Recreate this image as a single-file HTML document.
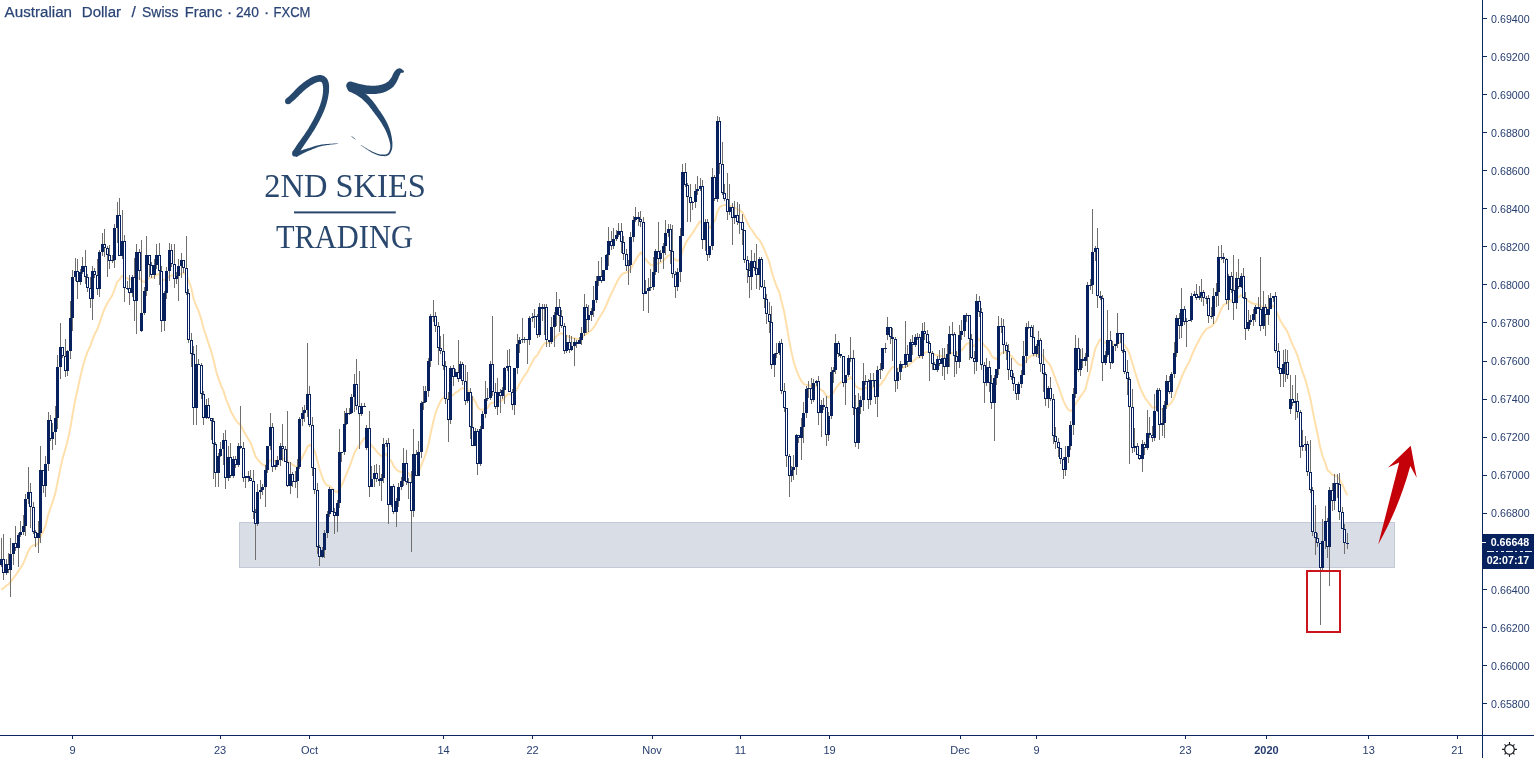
<!DOCTYPE html>
<html lang="en">
<head>
<meta charset="utf-8">
<title>Australian Dollar / Swiss Franc - 240 - FXCM</title>
<style>
html,body{margin:0;padding:0;background:#fff;overflow:hidden}
body{width:1534px;height:758px;position:relative;font-family:"Liberation Sans",sans-serif}
svg{position:absolute;left:0;top:0;display:block;will-change:transform}
.ax{font-family:"Liberation Sans",sans-serif;font-size:11px;fill:#263d6e}
.axb{font-family:"Liberation Sans",sans-serif;font-size:11px;font-weight:bold;fill:#263d6e}
.hdr{font-family:"Liberation Sans",sans-serif;font-size:15.5px;fill:#2b4475}
.logo{font-family:"Liberation Serif",serif;font-size:33px;fill:#2a486e}
.lbl{font-family:"Liberation Sans",sans-serif;font-size:11px;font-weight:bold;fill:#fff}
</style>
</head>
<body>
<svg width="1534" height="758" viewBox="0 0 1534 758">

<!-- header -->
<text class="hdr" y="16.7" stroke="#2b4475" stroke-width="0.25"><tspan x="4.6" textLength="67.4" lengthAdjust="spacingAndGlyphs">Australian</tspan> <tspan x="81.8" textLength="39.3" lengthAdjust="spacingAndGlyphs">Dollar</tspan> <tspan x="131.6">/</tspan> <tspan x="142.0" textLength="36.5" lengthAdjust="spacingAndGlyphs">Swiss</tspan> <tspan x="184.8" textLength="37.5" lengthAdjust="spacingAndGlyphs">Franc</tspan> <tspan x="226.9">·</tspan> <tspan x="235.9" textLength="23.0" lengthAdjust="spacingAndGlyphs">240</tspan> <tspan x="264.1">·</tspan> <tspan x="273.5" textLength="36.9" lengthAdjust="spacingAndGlyphs">FXCM</tspan></text>

<g shape-rendering="crispEdges">
<rect x="239.5" y="522.5" width="1155" height="45" fill="#d9dde6" stroke="#c3c9d6" stroke-width="1"/>
</g>
<path d="M1.1 589.7 L3.6 588.1 L6.0 585.8 L8.5 584.3 L11.0 581.4 L13.5 577.8 L15.9 574.9 L18.4 571.1 L20.9 567.4 L23.3 563.5 L25.8 557.3 L28.3 551.1 L30.7 546.9 L33.2 545.5 L35.7 544.8 L38.2 543.6 L40.6 536.6 L43.1 531.8 L45.6 525.4 L48.0 515.3 L50.5 508.0 L53.0 500.8 L55.4 492.9 L57.9 480.9 L60.4 468.2 L62.9 457.4 L65.3 449.2 L67.8 439.9 L70.3 428.3 L72.7 413.9 L75.2 400.3 L77.7 389.0 L80.1 377.9 L82.6 367.2 L85.1 358.7 L87.5 351.9 L90.0 346.8 L92.5 339.6 L95.0 333.5 L97.4 329.3 L99.9 321.9 L102.4 314.5 L104.8 308.2 L107.3 303.2 L109.8 299.2 L112.2 295.5 L114.7 289.0 L117.2 281.9 L119.7 279.5 L122.1 275.9 L124.6 277.0 L127.1 278.1 L129.5 279.5 L132.0 279.3 L134.5 281.4 L137.0 278.5 L139.4 277.8 L141.9 281.1 L144.4 282.1 L146.8 279.5 L149.3 278.1 L151.8 277.8 L154.2 276.6 L156.7 274.6 L159.2 274.3 L161.7 278.8 L164.1 280.1 L166.6 279.3 L169.1 276.5 L171.5 275.3 L174.0 275.7 L176.5 275.8 L178.9 274.9 L181.4 273.5 L183.9 273.0 L186.4 274.9 L188.8 281.1 L191.3 288.1 L193.8 299.5 L196.2 305.6 L198.7 311.3 L201.2 319.1 L203.6 328.5 L206.1 335.8 L208.6 343.6 L211.1 350.9 L213.5 359.8 L216.0 370.6 L218.5 378.7 L220.9 385.4 L223.4 390.6 L225.9 398.9 L228.3 404.4 L230.8 411.2 L233.3 415.7 L235.8 420.4 L238.2 422.9 L240.7 425.2 L243.2 430.2 L245.6 434.6 L248.1 438.7 L250.6 442.7 L253.0 449.3 L255.5 456.4 L258.0 459.8 L260.5 462.7 L262.9 465.0 L265.4 465.5 L267.9 463.6 L270.3 460.1 L272.8 460.8 L275.3 461.2 L277.7 461.1 L280.2 459.6 L282.7 458.6 L285.2 458.9 L287.6 461.5 L290.1 462.7 L292.6 464.6 L295.0 466.1 L297.5 466.2 L300.0 461.7 L302.4 457.0 L304.9 452.5 L307.4 446.9 L309.9 444.9 L312.3 447.1 L314.8 451.2 L317.3 460.4 L319.7 469.5 L322.2 477.3 L324.7 482.6 L327.1 485.6 L329.6 485.9 L332.1 488.4 L334.6 491.0 L337.0 492.1 L339.5 488.3 L342.0 484.9 L344.4 479.1 L346.9 472.8 L349.4 467.1 L351.8 460.4 L354.3 453.1 L356.8 448.7 L359.3 445.4 L361.7 441.7 L364.2 438.3 L366.7 437.3 L369.1 442.0 L371.6 445.6 L374.1 448.2 L376.5 451.1 L379.0 454.0 L381.5 456.2 L384.0 455.1 L386.4 453.9 L388.9 458.8 L391.4 461.3 L393.8 466.2 L396.3 469.5 L398.8 471.2 L401.2 472.1 L403.7 471.3 L406.2 472.4 L408.7 473.3 L411.1 476.9 L413.6 474.7 L416.1 474.8 L418.5 472.7 L421.0 466.1 L423.5 460.0 L425.9 453.4 L428.4 444.5 L430.9 432.3 L433.4 421.3 L435.8 412.2 L438.3 406.0 L440.8 400.8 L443.2 397.5 L445.7 397.7 L448.2 399.8 L450.6 396.8 L453.1 394.9 L455.6 392.7 L458.1 391.4 L460.5 388.9 L463.0 388.1 L465.5 389.4 L467.9 389.6 L470.4 393.2 L472.9 398.2 L475.3 401.3 L477.8 407.3 L480.3 409.4 L482.8 409.8 L485.2 408.9 L487.7 407.8 L490.2 403.7 L492.6 402.5 L495.1 403.0 L497.6 401.9 L500.0 401.3 L502.5 400.3 L505.0 397.2 L507.5 394.3 L509.9 394.1 L512.4 395.1 L514.9 392.5 L517.3 387.9 L519.8 383.4 L522.3 379.2 L524.7 375.3 L527.2 372.0 L529.7 366.9 L532.2 362.2 L534.6 357.8 L537.1 355.6 L539.6 351.0 L542.0 347.0 L544.5 343.2 L547.0 342.9 L549.4 342.9 L551.9 341.4 L554.4 338.8 L556.9 335.8 L559.3 334.0 L561.8 333.2 L564.3 334.9 L566.7 335.6 L569.2 336.9 L571.7 337.8 L574.1 338.2 L576.6 338.8 L579.1 338.9 L581.6 338.4 L584.0 335.4 L586.5 333.9 L589.0 332.2 L591.4 330.1 L593.9 327.2 L596.4 322.9 L598.8 318.4 L601.3 314.8 L603.8 310.6 L606.3 305.3 L608.7 299.2 L611.2 294.1 L613.7 288.9 L616.1 283.7 L618.6 278.7 L621.1 275.3 L623.5 273.2 L626.0 272.6 L628.5 271.8 L631.0 268.5 L633.4 263.9 L635.9 259.4 L638.4 255.6 L640.8 252.4 L643.3 256.4 L645.8 259.7 L648.2 262.4 L650.7 264.7 L653.2 265.4 L655.7 264.1 L658.1 263.6 L660.6 262.6 L663.1 261.0 L665.5 258.3 L668.0 255.6 L670.5 255.2 L672.9 256.9 L675.4 259.8 L677.9 260.9 L680.4 258.5 L682.8 250.3 L685.3 244.1 L687.8 239.6 L690.2 236.2 L692.7 232.9 L695.2 228.9 L697.6 225.1 L700.1 221.4 L702.6 223.2 L705.1 223.1 L707.5 226.2 L710.0 228.0 L712.5 223.2 L714.9 220.9 L717.4 211.4 L719.9 206.9 L722.3 205.6 L724.8 204.9 L727.3 205.6 L729.8 205.7 L732.2 206.9 L734.7 207.6 L737.2 209.0 L739.6 210.3 L742.1 212.1 L744.6 216.7 L747.0 221.8 L749.5 227.0 L752.0 230.2 L754.5 233.9 L756.9 237.8 L759.4 239.8 L761.9 244.3 L764.3 249.5 L766.8 255.7 L769.3 262.0 L771.7 271.8 L774.2 279.7 L776.7 286.7 L779.2 292.0 L781.6 301.4 L784.1 311.6 L786.6 325.3 L789.0 339.7 L791.5 352.1 L794.0 363.0 L796.4 369.9 L798.9 376.4 L801.4 381.2 L803.9 384.2 L806.3 384.7 L808.8 385.0 L811.3 386.4 L813.7 386.1 L816.2 385.6 L818.7 388.2 L821.1 389.8 L823.6 391.4 L826.1 395.6 L828.6 397.5 L831.0 395.1 L833.5 392.7 L836.0 388.0 L838.4 384.8 L840.9 382.1 L843.4 382.1 L845.8 381.4 L848.3 379.2 L850.8 377.1 L853.3 380.1 L855.7 386.1 L858.2 388.0 L860.7 389.2 L863.1 388.4 L865.6 387.7 L868.1 388.9 L870.5 388.1 L873.0 387.3 L875.5 388.2 L878.0 386.5 L880.4 384.8 L882.9 381.3 L885.4 378.1 L887.8 373.3 L890.3 369.8 L892.8 366.8 L895.2 368.2 L897.7 368.6 L900.2 368.1 L902.7 367.9 L905.1 366.6 L907.6 366.2 L910.1 363.8 L912.5 362.0 L915.0 359.6 L917.5 357.5 L919.9 357.3 L922.4 354.8 L924.9 352.8 L927.4 351.9 L929.8 352.0 L932.3 353.1 L934.8 354.7 L937.2 355.2 L939.7 356.0 L942.2 356.1 L944.6 357.2 L947.1 356.9 L949.6 354.7 L952.1 352.7 L954.5 353.0 L957.0 353.9 L959.5 352.1 L961.9 350.1 L964.4 346.7 L966.9 343.7 L969.3 343.2 L971.8 344.6 L974.3 346.3 L976.8 341.9 L979.2 339.0 L981.7 341.5 L984.2 345.5 L986.6 347.5 L989.1 350.9 L991.6 355.9 L994.0 358.0 L996.5 359.0 L999.0 355.9 L1001.5 353.0 L1003.9 352.2 L1006.4 352.1 L1008.9 353.9 L1011.3 356.0 L1013.8 358.7 L1016.3 362.1 L1018.7 364.2 L1021.2 365.2 L1023.7 364.3 L1026.2 360.8 L1028.6 357.7 L1031.1 355.7 L1033.6 355.6 L1036.0 354.7 L1038.5 353.3 L1041.0 354.3 L1043.4 356.1 L1045.9 360.3 L1048.4 363.0 L1050.8 366.4 L1053.3 373.1 L1055.8 379.7 L1058.3 386.1 L1060.7 393.0 L1063.2 400.3 L1065.7 405.7 L1068.1 409.5 L1070.6 411.0 L1073.1 409.4 L1075.5 403.5 L1078.0 400.3 L1080.5 396.4 L1083.0 393.0 L1085.4 389.5 L1087.9 379.6 L1090.4 370.6 L1092.8 359.3 L1095.3 348.7 L1097.8 343.6 L1100.2 339.3 L1102.7 341.5 L1105.2 342.8 L1107.7 342.6 L1110.1 344.5 L1112.6 344.6 L1115.1 344.6 L1117.5 343.5 L1120.0 342.5 L1122.5 343.3 L1125.0 346.0 L1127.4 349.2 L1129.9 354.7 L1132.4 363.5 L1134.8 371.3 L1137.3 379.3 L1139.8 386.9 L1142.2 392.3 L1144.7 397.5 L1147.2 400.9 L1149.7 404.1 L1152.1 407.4 L1154.6 407.7 L1157.1 406.0 L1159.5 407.8 L1162.0 409.3 L1164.5 408.9 L1166.9 406.3 L1169.4 404.9 L1171.9 401.9 L1174.3 397.3 L1176.8 389.8 L1179.3 383.7 L1181.8 376.5 L1184.2 371.3 L1186.7 366.5 L1189.2 362.1 L1191.6 355.8 L1194.1 350.0 L1196.6 345.0 L1199.0 340.3 L1201.5 335.8 L1204.0 332.2 L1206.5 328.9 L1208.9 327.7 L1211.4 326.6 L1213.9 323.7 L1216.3 320.7 L1218.8 314.7 L1221.3 309.2 L1223.8 304.4 L1226.2 304.0 L1228.7 301.3 L1231.2 300.2 L1233.6 300.5 L1236.1 298.3 L1238.6 297.2 L1241.0 295.2 L1243.5 295.4 L1246.0 298.7 L1248.5 300.9 L1250.9 302.7 L1253.4 303.7 L1255.9 304.1 L1258.3 304.5 L1260.8 306.5 L1263.3 306.6 L1265.7 307.3 L1268.2 307.5 L1270.7 306.6 L1273.2 305.6 L1275.6 309.9 L1278.1 315.4 L1280.6 321.1 L1283.0 325.1 L1285.5 328.6 L1288.0 333.1 L1290.4 339.3 L1292.9 345.4 L1295.4 350.6 L1297.8 356.5 L1300.3 365.1 L1302.8 372.7 L1305.3 379.5 L1307.7 388.3 L1310.2 397.9 L1312.7 410.7 L1315.1 422.8 L1317.6 434.3 L1320.1 447.0 L1322.5 456.0 L1325.0 462.2 L1327.5 470.2 L1330.0 472.1 L1332.4 474.8 L1334.9 475.6 L1337.4 476.5 L1339.8 479.8 L1342.3 484.5 L1344.8 490.1 L1347.2 495.1" fill="none" stroke="#ffe0ad" stroke-width="2" stroke-linejoin="round"/>
<g shape-rendering="crispEdges">
<path d="M1 538 V567 M3 534 V580 M6 559 V575 M8 553 V573 M10 538 V597 M13 543 V565 M15 526 V551 M18 533 V567 M20 521 V537 M23 515 V535 M25 494 V536 M28 467 V504 M30 483 V528 M33 502 V534 M35 530 V547 M38 521 V553 M40 446 V543 M43 470 V493 M45 456 V497 M48 412 V471 M50 415 V441 M52 423 V450 M55 406 V445 M57 355 V429 M60 323 V379 M62 347 V358 M65 339 V377 M67 350 V376 M70 301 V359 M72 270 V331 M75 258 V281 M77 259 V299 M80 269 V285 M82 257 V274 M85 250 V284 M87 274 V292 M90 277 V308 M92 266 V320 M94 268 V278 M97 259 V295 M99 250 V297 M102 233 V256 M104 229 V257 M107 246 V277 M109 245 V269 M112 255 V263 M114 224 V268 M117 202 V243 M119 198 V256 M122 210 V259 M124 235 V302 M127 281 V290 M129 275 V305 M132 275 V297 M134 258 V321 M136 244 V334 M139 249 V280 M141 240 V332 M144 287 V315 M146 236 V296 M149 255 V277 M151 262 V278 M154 259 V279 M156 244 V269 M159 243 V285 M161 266 V332 M164 291 V331 M166 267 V299 M169 243 V281 M171 244 V267 M174 244 V288 M176 272 V284 M178 259 V301 M181 253 V278 M183 260 V273 M186 236 V295 M188 289 V343 M191 333 V367 M193 346 V425 M196 345 V425 M198 359 V365 M201 363 V399 M203 391 V425 M206 399 V419 M208 398 V419 M211 418 V440 M213 418 V479 M215 442 V487 M218 453 V487 M220 442 V457 M223 433 V465 M225 430 V489 M228 446 V481 M230 443 V478 M233 456 V478 M235 456 V468 M238 443 V467 M240 406 V449 M243 442 V482 M245 476 V488 M248 471 V482 M250 470 V481 M253 470 V519 M255 509 V560 M257 484 V526 M260 480 V499 M262 484 V495 M265 465 V507 M267 446 V473 M270 413 V450 M272 423 V472 M275 460 V470 M277 456 V467 M280 443 V466 M282 424 V461 M285 446 V462 M287 411 V487 M290 462 V494 M292 472 V487 M295 471 V488 M297 459 V498 M299 417 V469 M302 407 V426 M304 405 V422 M307 343 V417 M309 386 V427 M312 417 V476 M314 468 V494 M317 483 V554 M319 545 V566 M322 547 V558 M324 530 V558 M327 511 V538 M329 487 V517 M332 489 V512 M334 508 V534 M337 500 V532 M339 429 V508 M341 452 V462 M344 411 V455 M346 408 V425 M349 408 V415 M351 394 V414 M354 374 V412 M356 359 V410 M359 371 V449 M361 403 V416 M364 403 V406 M366 425 V450 M369 411 V497 M371 466 V487 M374 465 V487 M376 464 V482 M379 465 V486 M381 474 V501 M383 438 V483 M386 440 V447 M388 438 V524 M391 486 V507 M393 484 V514 M396 498 V527 M398 483 V507 M401 477 V490 M403 448 V486 M406 450 V485 M408 478 V499 M411 471 V552 M413 429 V517 M416 450 V476 M418 441 V476 M421 401 V458 M423 386 V410 M425 386 V403 M428 358 V397 M430 314 V367 M433 300 V322 M435 312 V332 M438 322 V365 M440 336 V354 M443 334 V370 M445 361 V404 M448 392 V442 M450 366 V424 M453 365 V386 M455 369 V377 M458 340 V382 M460 361 V379 M462 362 V385 M465 365 V405 M467 372 V403 M470 388 V439 M472 396 V446 M475 428 V446 M477 429 V475 M480 426 V466 M482 411 V429 M485 381 V418 M487 388 V401 M490 361 V400 M492 316 V396 M495 383 V409 M497 378 V415 M500 389 V413 M502 387 V399 M504 367 V404 M507 350 V371 M509 349 V392 M512 389 V410 M514 368 V415 M517 334 V374 M519 337 V353 M522 318 V343 M524 337 V343 M527 339 V364 M529 316 V345 M532 313 V322 M534 309 V328 M537 314 V338 M539 303 V337 M542 304 V321 M544 304 V335 M546 304 V347 M549 340 V347 M551 317 V344 M554 312 V347 M556 292 V326 M559 299 V332 M561 310 V328 M564 323 V354 M566 335 V353 M569 335 V353 M571 336 V351 M574 338 V366 M576 340 V348 M579 337 V344 M581 327 V345 M584 294 V336 M586 304 V333 M588 305 V332 M591 308 V321 M593 286 V317 M596 276 V303 M598 261 V286 M601 257 V283 M603 270 V281 M606 254 V270 M608 227 V266 M611 231 V250 M613 228 V249 M616 230 V241 M618 223 V237 M621 223 V253 M623 236 V260 M626 249 V271 M628 260 V285 M630 232 V273 M633 216 V242 M635 207 V222 M638 212 V226 M640 211 V227 M643 217 V311 M645 280 V294 M648 278 V313 M650 269 V291 M653 257 V290 M655 249 V275 M658 222 V273 M660 250 V262 M663 243 V269 M665 220 V255 M668 224 V237 M670 224 V264 M672 225 V278 M675 271 V298 M677 268 V291 M680 228 V282 M682 164 V236 M685 163 V187 M687 183 V222 M690 184 V222 M692 201 V210 M695 184 V208 M697 176 V195 M700 178 V191 M702 180 V249 M705 219 V251 M707 219 V261 M709 246 V258 M712 168 V250 M714 175 V201 M717 116 V202 M719 117 V174 M722 142 V195 M724 184 V201 M727 173 V220 M729 184 V215 M732 203 V245 M734 201 V224 M737 202 V225 M739 204 V234 M742 214 V245 M744 230 V263 M747 256 V283 M749 263 V298 M751 250 V290 M754 253 V271 M756 244 V289 M759 257 V290 M761 257 V288 M764 280 V308 M766 294 V324 M769 302 V333 M771 306 V369 M774 353 V377 M776 343 V358 M779 341 V355 M781 339 V394 M784 383 V412 M786 408 V467 M789 454 V497 M791 466 V482 M793 455 V480 M796 434 V475 M798 435 V443 M801 418 V460 M803 402 V443 M806 386 V418 M808 381 V398 M811 378 V404 M813 379 V402 M816 380 V386 M818 376 V425 M821 400 V437 M823 398 V410 M826 396 V446 M828 412 V441 M831 367 V419 M833 367 V383 M835 334 V374 M838 341 V357 M840 354 V358 M843 356 V387 M845 375 V405 M848 355 V377 M850 337 V362 M853 350 V415 M855 395 V447 M858 393 V449 M860 396 V414 M863 363 V411 M865 375 V385 M868 379 V409 M870 373 V405 M873 373 V387 M875 380 V404 M877 366 V417 M880 363 V379 M882 348 V371 M885 343 V353 M887 317 V340 M890 327 V344 M892 328 V361 M895 337 V392 M897 368 V389 M900 361 V380 M902 364 V368 M905 321 V368 M907 345 V367 M910 339 V362 M912 335 V355 M915 334 V347 M917 333 V340 M919 334 V358 M922 323 V359 M924 322 V340 M927 330 V343 M929 341 V381 M932 351 V370 M934 362 V370 M937 356 V372 M939 350 V366 M942 348 V376 M944 348 V380 M947 344 V374 M949 326 V367 M952 322 V336 M954 332 V377 M956 351 V374 M959 325 V368 M961 320 V340 M964 315 V337 M966 313 V322 M969 315 V360 M971 334 V359 M974 351 V374 M976 294 V371 M979 296 V317 M981 308 V370 M984 362 V403 M986 358 V386 M989 361 V392 M991 375 V409 M994 375 V441 M996 369 V385 M998 316 V375 M1001 318 V333 M1003 319 V354 M1006 342 V360 M1008 344 V380 M1011 358 V380 M1013 373 V391 M1016 384 V400 M1018 382 V400 M1021 370 V388 M1023 341 V375 M1026 323 V363 M1028 321 V329 M1031 325 V337 M1033 325 V356 M1036 344 V357 M1038 331 V358 M1040 338 V372 M1043 349 V392 M1045 372 V406 M1048 386 V408 M1050 377 V401 M1053 394 V444 M1055 427 V449 M1058 438 V457 M1060 448 V464 M1063 457 V479 M1065 446 V476 M1068 446 V463 M1070 421 V450 M1073 388 V435 M1075 335 V398 M1078 338 V372 M1080 349 V376 M1082 348 V368 M1085 353 V366 M1087 282 V372 M1090 279 V290 M1092 209 V294 M1095 246 V261 M1097 228 V308 M1100 291 V300 M1102 295 V381 M1105 351 V365 M1107 310 V357 M1110 331 V369 M1112 341 V364 M1115 344 V351 M1117 313 V348 M1120 333 V343 M1122 333 V353 M1124 349 V374 M1127 360 V395 M1129 377 V464 M1132 389 V453 M1134 428 V452 M1137 443 V455 M1139 455 V460 M1142 440 V472 M1144 442 V455 M1147 410 V450 M1149 417 V438 M1152 426 V442 M1154 394 V441 M1157 388 V412 M1159 388 V440 M1162 408 V436 M1164 401 V438 M1166 375 V409 M1169 376 V394 M1171 372 V398 M1174 342 V378 M1176 315 V357 M1179 313 V339 M1181 288 V338 M1184 306 V325 M1186 318 V347 M1189 320 V321 M1191 293 V322 M1194 291 V296 M1196 284 V300 M1199 286 V300 M1201 279 V302 M1203 290 V306 M1206 296 V304 M1208 295 V323 M1211 307 V319 M1213 288 V324 M1216 283 V307 M1218 246 V306 M1221 245 V260 M1223 253 V263 M1226 258 V304 M1228 274 V310 M1231 272 V293 M1233 255 V320 M1236 272 V309 M1238 259 V289 M1241 273 V288 M1243 268 V299 M1245 292 V340 M1248 310 V331 M1250 315 V325 M1253 309 V326 M1255 305 V322 M1258 297 V309 M1260 257 V331 M1263 291 V329 M1265 304 V336 M1268 295 V325 M1270 293 V309 M1273 296 V302 M1275 292 V353 M1278 343 V370 M1280 368 V387 M1283 350 V387 M1285 349 V382 M1287 350 V379 M1290 375 V414 M1292 385 V406 M1295 375 V420 M1297 393 V418 M1300 410 V458 M1302 430 V451 M1305 436 V451 M1307 441 V476 M1310 440 V493 M1312 487 V536 M1315 505 V555 M1317 533 V547 M1320 543 V625 M1322 519 V572 M1325 506 V549 M1327 518 V558 M1329 487 V586 M1332 483 V511 M1334 474 V510 M1337 474 V498 M1339 473 V520 M1342 507 V529 M1344 524 V554 M1347 533 V549" stroke="#6f6f6f" stroke-width="1" fill="none" transform="translate(0.5,0)"/>
<rect x="0" y="559" width="3" height="6" fill="#07215e"/>
<rect x="2" y="559" width="3" height="14" fill="#07215e"/><rect x="3" y="560" width="1" height="12" fill="#fff"/>
<rect x="5" y="564" width="3" height="9" fill="#07215e"/>
<rect x="7" y="564" width="3" height="6" fill="#07215e"/><rect x="8" y="565" width="1" height="4" fill="#fff"/>
<rect x="9" y="554" width="3" height="16" fill="#07215e"/>
<rect x="12" y="543" width="3" height="11" fill="#07215e"/>
<rect x="14" y="543" width="3" height="5" fill="#07215e"/><rect x="15" y="544" width="1" height="3" fill="#fff"/>
<rect x="17" y="535" width="3" height="13" fill="#07215e"/>
<rect x="19" y="532" width="3" height="3" fill="#07215e"/>
<rect x="22" y="526" width="3" height="6" fill="#07215e"/>
<rect x="24" y="499" width="3" height="27" fill="#07215e"/>
<rect x="27" y="492" width="3" height="7" fill="#07215e"/>
<rect x="29" y="492" width="3" height="15" fill="#07215e"/><rect x="30" y="493" width="1" height="13" fill="#fff"/>
<rect x="32" y="507" width="3" height="25" fill="#07215e"/><rect x="33" y="508" width="1" height="23" fill="#fff"/>
<rect x="34" y="532" width="3" height="6" fill="#07215e"/><rect x="35" y="533" width="1" height="4" fill="#fff"/>
<rect x="37" y="533" width="3" height="5" fill="#07215e"/>
<rect x="39" y="470" width="3" height="63" fill="#07215e"/>
<rect x="42" y="470" width="3" height="16" fill="#07215e"/><rect x="43" y="471" width="1" height="14" fill="#fff"/>
<rect x="44" y="464" width="3" height="22" fill="#07215e"/>
<rect x="47" y="420" width="3" height="44" fill="#07215e"/>
<rect x="49" y="420" width="3" height="19" fill="#07215e"/><rect x="50" y="421" width="1" height="17" fill="#fff"/>
<rect x="51" y="432" width="3" height="7" fill="#07215e"/>
<rect x="54" y="418" width="3" height="14" fill="#07215e"/>
<rect x="56" y="367" width="3" height="51" fill="#07215e"/>
<rect x="59" y="347" width="3" height="20" fill="#07215e"/>
<rect x="61" y="347" width="3" height="9" fill="#07215e"/><rect x="62" y="348" width="1" height="7" fill="#fff"/>
<rect x="64" y="356" width="3" height="15" fill="#07215e"/><rect x="65" y="357" width="1" height="13" fill="#fff"/>
<rect x="66" y="351" width="3" height="20" fill="#07215e"/>
<rect x="69" y="318" width="3" height="33" fill="#07215e"/>
<rect x="71" y="277" width="3" height="41" fill="#07215e"/>
<rect x="74" y="271" width="3" height="6" fill="#07215e"/>
<rect x="76" y="271" width="3" height="11" fill="#07215e"/><rect x="77" y="272" width="1" height="9" fill="#fff"/>
<rect x="79" y="272" width="3" height="10" fill="#07215e"/>
<rect x="81" y="266" width="3" height="6" fill="#07215e"/>
<rect x="84" y="266" width="3" height="11" fill="#07215e"/><rect x="85" y="267" width="1" height="9" fill="#fff"/>
<rect x="86" y="277" width="3" height="11" fill="#07215e"/><rect x="87" y="278" width="1" height="9" fill="#fff"/>
<rect x="89" y="288" width="3" height="11" fill="#07215e"/><rect x="90" y="289" width="1" height="9" fill="#fff"/>
<rect x="91" y="271" width="3" height="28" fill="#07215e"/>
<rect x="93" y="271" width="3" height="4" fill="#07215e"/><rect x="94" y="272" width="1" height="2" fill="#fff"/>
<rect x="96" y="275" width="3" height="14" fill="#07215e"/><rect x="97" y="276" width="1" height="12" fill="#fff"/>
<rect x="98" y="252" width="3" height="37" fill="#07215e"/>
<rect x="101" y="244" width="3" height="8" fill="#07215e"/>
<rect x="103" y="244" width="3" height="4" fill="#07215e"/><rect x="104" y="245" width="1" height="2" fill="#fff"/>
<rect x="106" y="248" width="3" height="7" fill="#07215e"/><rect x="107" y="249" width="1" height="5" fill="#fff"/>
<rect x="108" y="255" width="3" height="6" fill="#07215e"/><rect x="109" y="256" width="1" height="4" fill="#fff"/>
<rect x="111" y="260" width="3" height="1" fill="#07215e"/>
<rect x="113" y="228" width="3" height="32" fill="#07215e"/>
<rect x="116" y="215" width="3" height="13" fill="#07215e"/>
<rect x="118" y="215" width="3" height="41" fill="#07215e"/><rect x="119" y="216" width="1" height="39" fill="#fff"/>
<rect x="121" y="241" width="3" height="15" fill="#07215e"/>
<rect x="123" y="241" width="3" height="47" fill="#07215e"/><rect x="124" y="242" width="1" height="45" fill="#fff"/>
<rect x="126" y="288" width="3" height="1" fill="#07215e"/>
<rect x="128" y="288" width="3" height="5" fill="#07215e"/><rect x="129" y="289" width="1" height="3" fill="#fff"/>
<rect x="131" y="277" width="3" height="16" fill="#07215e"/>
<rect x="133" y="277" width="3" height="24" fill="#07215e"/><rect x="134" y="278" width="1" height="22" fill="#fff"/>
<rect x="135" y="252" width="3" height="49" fill="#07215e"/>
<rect x="138" y="252" width="3" height="19" fill="#07215e"/><rect x="139" y="253" width="1" height="17" fill="#fff"/>
<rect x="140" y="313" width="3" height="18" fill="#07215e"/>
<rect x="143" y="291" width="3" height="22" fill="#07215e"/>
<rect x="145" y="255" width="3" height="36" fill="#07215e"/>
<rect x="148" y="255" width="3" height="10" fill="#07215e"/><rect x="149" y="256" width="1" height="8" fill="#fff"/>
<rect x="150" y="265" width="3" height="10" fill="#07215e"/><rect x="151" y="266" width="1" height="8" fill="#fff"/>
<rect x="153" y="265" width="3" height="10" fill="#07215e"/>
<rect x="155" y="255" width="3" height="10" fill="#07215e"/>
<rect x="158" y="255" width="3" height="16" fill="#07215e"/><rect x="159" y="256" width="1" height="14" fill="#fff"/>
<rect x="160" y="271" width="3" height="50" fill="#07215e"/><rect x="161" y="272" width="1" height="48" fill="#fff"/>
<rect x="163" y="293" width="3" height="28" fill="#07215e"/>
<rect x="165" y="271" width="3" height="22" fill="#07215e"/>
<rect x="168" y="250" width="3" height="21" fill="#07215e"/>
<rect x="170" y="250" width="3" height="14" fill="#07215e"/><rect x="171" y="251" width="1" height="12" fill="#fff"/>
<rect x="173" y="264" width="3" height="15" fill="#07215e"/><rect x="174" y="265" width="1" height="13" fill="#fff"/>
<rect x="175" y="276" width="3" height="3" fill="#07215e"/>
<rect x="177" y="266" width="3" height="10" fill="#07215e"/>
<rect x="180" y="260" width="3" height="6" fill="#07215e"/>
<rect x="182" y="260" width="3" height="8" fill="#07215e"/><rect x="183" y="261" width="1" height="6" fill="#fff"/>
<rect x="185" y="268" width="3" height="25" fill="#07215e"/><rect x="186" y="269" width="1" height="23" fill="#fff"/>
<rect x="187" y="293" width="3" height="47" fill="#07215e"/><rect x="188" y="294" width="1" height="45" fill="#fff"/>
<rect x="190" y="340" width="3" height="14" fill="#07215e"/><rect x="191" y="341" width="1" height="12" fill="#fff"/>
<rect x="192" y="354" width="3" height="54" fill="#07215e"/><rect x="193" y="355" width="1" height="52" fill="#fff"/>
<rect x="195" y="364" width="3" height="44" fill="#07215e"/>
<rect x="197" y="364" width="3" height="1" fill="#07215e"/>
<rect x="200" y="365" width="3" height="29" fill="#07215e"/><rect x="201" y="366" width="1" height="27" fill="#fff"/>
<rect x="202" y="394" width="3" height="24" fill="#07215e"/><rect x="203" y="395" width="1" height="22" fill="#fff"/>
<rect x="205" y="405" width="3" height="13" fill="#07215e"/>
<rect x="207" y="405" width="3" height="13" fill="#07215e"/><rect x="208" y="406" width="1" height="11" fill="#fff"/>
<rect x="210" y="418" width="3" height="3" fill="#07215e"/><rect x="211" y="419" width="1" height="1" fill="#fff"/>
<rect x="212" y="421" width="3" height="23" fill="#07215e"/><rect x="213" y="422" width="1" height="21" fill="#fff"/>
<rect x="214" y="444" width="3" height="29" fill="#07215e"/><rect x="215" y="445" width="1" height="27" fill="#fff"/>
<rect x="217" y="456" width="3" height="17" fill="#07215e"/>
<rect x="219" y="449" width="3" height="7" fill="#07215e"/>
<rect x="222" y="440" width="3" height="9" fill="#07215e"/>
<rect x="224" y="440" width="3" height="38" fill="#07215e"/><rect x="225" y="441" width="1" height="36" fill="#fff"/>
<rect x="227" y="457" width="3" height="21" fill="#07215e"/>
<rect x="229" y="457" width="3" height="19" fill="#07215e"/><rect x="230" y="458" width="1" height="17" fill="#fff"/>
<rect x="232" y="459" width="3" height="17" fill="#07215e"/>
<rect x="234" y="459" width="3" height="6" fill="#07215e"/><rect x="235" y="460" width="1" height="4" fill="#fff"/>
<rect x="237" y="446" width="3" height="19" fill="#07215e"/>
<rect x="239" y="446" width="3" height="2" fill="#07215e"/>
<rect x="242" y="448" width="3" height="30" fill="#07215e"/><rect x="243" y="449" width="1" height="28" fill="#fff"/>
<rect x="244" y="476" width="3" height="2" fill="#07215e"/>
<rect x="247" y="476" width="3" height="2" fill="#07215e"/>
<rect x="249" y="478" width="3" height="3" fill="#07215e"/><rect x="250" y="479" width="1" height="1" fill="#fff"/>
<rect x="252" y="481" width="3" height="31" fill="#07215e"/><rect x="253" y="482" width="1" height="29" fill="#fff"/>
<rect x="254" y="512" width="3" height="12" fill="#07215e"/><rect x="255" y="513" width="1" height="10" fill="#fff"/>
<rect x="256" y="492" width="3" height="32" fill="#07215e"/>
<rect x="259" y="490" width="3" height="2" fill="#07215e"/>
<rect x="261" y="487" width="3" height="3" fill="#07215e"/>
<rect x="264" y="470" width="3" height="17" fill="#07215e"/>
<rect x="266" y="446" width="3" height="24" fill="#07215e"/>
<rect x="269" y="427" width="3" height="19" fill="#07215e"/>
<rect x="271" y="427" width="3" height="40" fill="#07215e"/><rect x="272" y="428" width="1" height="38" fill="#fff"/>
<rect x="274" y="465" width="3" height="2" fill="#07215e"/>
<rect x="276" y="460" width="3" height="5" fill="#07215e"/>
<rect x="279" y="446" width="3" height="14" fill="#07215e"/>
<rect x="281" y="446" width="3" height="3" fill="#07215e"/><rect x="282" y="447" width="1" height="1" fill="#fff"/>
<rect x="284" y="449" width="3" height="13" fill="#07215e"/><rect x="285" y="450" width="1" height="11" fill="#fff"/>
<rect x="286" y="462" width="3" height="24" fill="#07215e"/><rect x="287" y="463" width="1" height="22" fill="#fff"/>
<rect x="289" y="474" width="3" height="12" fill="#07215e"/>
<rect x="291" y="474" width="3" height="8" fill="#07215e"/><rect x="292" y="475" width="1" height="6" fill="#fff"/>
<rect x="294" y="481" width="3" height="1" fill="#07215e"/>
<rect x="296" y="467" width="3" height="14" fill="#07215e"/>
<rect x="298" y="419" width="3" height="48" fill="#07215e"/>
<rect x="301" y="413" width="3" height="6" fill="#07215e"/>
<rect x="303" y="410" width="3" height="3" fill="#07215e"/>
<rect x="306" y="394" width="3" height="16" fill="#07215e"/>
<rect x="308" y="394" width="3" height="31" fill="#07215e"/><rect x="309" y="395" width="1" height="29" fill="#fff"/>
<rect x="311" y="425" width="3" height="43" fill="#07215e"/><rect x="312" y="426" width="1" height="41" fill="#fff"/>
<rect x="313" y="468" width="3" height="22" fill="#07215e"/><rect x="314" y="469" width="1" height="20" fill="#fff"/>
<rect x="316" y="490" width="3" height="57" fill="#07215e"/><rect x="317" y="491" width="1" height="55" fill="#fff"/>
<rect x="318" y="547" width="3" height="10" fill="#07215e"/><rect x="319" y="548" width="1" height="8" fill="#fff"/>
<rect x="321" y="550" width="3" height="7" fill="#07215e"/>
<rect x="323" y="533" width="3" height="17" fill="#07215e"/>
<rect x="326" y="514" width="3" height="19" fill="#07215e"/>
<rect x="328" y="489" width="3" height="25" fill="#07215e"/>
<rect x="331" y="489" width="3" height="23" fill="#07215e"/><rect x="332" y="490" width="1" height="21" fill="#fff"/>
<rect x="333" y="512" width="3" height="4" fill="#07215e"/><rect x="334" y="513" width="1" height="2" fill="#fff"/>
<rect x="336" y="503" width="3" height="13" fill="#07215e"/>
<rect x="338" y="452" width="3" height="51" fill="#07215e"/>
<rect x="340" y="452" width="3" height="1" fill="#07215e"/>
<rect x="343" y="424" width="3" height="28" fill="#07215e"/>
<rect x="345" y="413" width="3" height="11" fill="#07215e"/>
<rect x="348" y="413" width="3" height="1" fill="#07215e"/>
<rect x="350" y="397" width="3" height="16" fill="#07215e"/>
<rect x="353" y="384" width="3" height="13" fill="#07215e"/>
<rect x="355" y="384" width="3" height="22" fill="#07215e"/><rect x="356" y="385" width="1" height="20" fill="#fff"/>
<rect x="358" y="406" width="3" height="8" fill="#07215e"/><rect x="359" y="407" width="1" height="6" fill="#fff"/>
<rect x="360" y="406" width="3" height="8" fill="#07215e"/>
<rect x="363" y="406" width="3" height="1" fill="#07215e"/>
<rect x="365" y="428" width="3" height="20" fill="#07215e"/>
<rect x="368" y="428" width="3" height="59" fill="#07215e"/><rect x="369" y="429" width="1" height="57" fill="#fff"/>
<rect x="370" y="479" width="3" height="8" fill="#07215e"/>
<rect x="373" y="473" width="3" height="6" fill="#07215e"/>
<rect x="375" y="473" width="3" height="6" fill="#07215e"/><rect x="376" y="474" width="1" height="4" fill="#fff"/>
<rect x="378" y="479" width="3" height="2" fill="#07215e"/>
<rect x="380" y="478" width="3" height="3" fill="#07215e"/>
<rect x="382" y="444" width="3" height="34" fill="#07215e"/>
<rect x="385" y="443" width="3" height="1" fill="#07215e"/>
<rect x="387" y="443" width="3" height="62" fill="#07215e"/><rect x="388" y="444" width="1" height="60" fill="#fff"/>
<rect x="390" y="486" width="3" height="19" fill="#07215e"/>
<rect x="392" y="486" width="3" height="26" fill="#07215e"/><rect x="393" y="487" width="1" height="24" fill="#fff"/>
<rect x="395" y="501" width="3" height="11" fill="#07215e"/>
<rect x="397" y="487" width="3" height="14" fill="#07215e"/>
<rect x="400" y="481" width="3" height="6" fill="#07215e"/>
<rect x="402" y="463" width="3" height="18" fill="#07215e"/>
<rect x="405" y="463" width="3" height="19" fill="#07215e"/><rect x="406" y="464" width="1" height="17" fill="#fff"/>
<rect x="407" y="482" width="3" height="1" fill="#07215e"/>
<rect x="410" y="482" width="3" height="29" fill="#07215e"/><rect x="411" y="483" width="1" height="27" fill="#fff"/>
<rect x="412" y="454" width="3" height="57" fill="#07215e"/>
<rect x="415" y="454" width="3" height="22" fill="#07215e"/><rect x="416" y="455" width="1" height="20" fill="#fff"/>
<rect x="417" y="452" width="3" height="24" fill="#07215e"/>
<rect x="420" y="403" width="3" height="49" fill="#07215e"/>
<rect x="422" y="402" width="3" height="1" fill="#07215e"/>
<rect x="424" y="391" width="3" height="11" fill="#07215e"/>
<rect x="427" y="361" width="3" height="30" fill="#07215e"/>
<rect x="429" y="316" width="3" height="45" fill="#07215e"/>
<rect x="432" y="316" width="3" height="1" fill="#07215e"/>
<rect x="434" y="316" width="3" height="10" fill="#07215e"/><rect x="435" y="317" width="1" height="8" fill="#fff"/>
<rect x="437" y="326" width="3" height="22" fill="#07215e"/><rect x="438" y="327" width="1" height="20" fill="#fff"/>
<rect x="439" y="348" width="3" height="3" fill="#07215e"/><rect x="440" y="349" width="1" height="1" fill="#fff"/>
<rect x="442" y="351" width="3" height="15" fill="#07215e"/><rect x="443" y="352" width="1" height="13" fill="#fff"/>
<rect x="444" y="366" width="3" height="33" fill="#07215e"/><rect x="445" y="367" width="1" height="31" fill="#fff"/>
<rect x="447" y="399" width="3" height="21" fill="#07215e"/><rect x="448" y="400" width="1" height="19" fill="#fff"/>
<rect x="449" y="368" width="3" height="52" fill="#07215e"/>
<rect x="452" y="368" width="3" height="9" fill="#07215e"/><rect x="453" y="369" width="1" height="7" fill="#fff"/>
<rect x="454" y="372" width="3" height="5" fill="#07215e"/>
<rect x="457" y="372" width="3" height="7" fill="#07215e"/><rect x="458" y="373" width="1" height="5" fill="#fff"/>
<rect x="459" y="364" width="3" height="15" fill="#07215e"/>
<rect x="461" y="364" width="3" height="17" fill="#07215e"/><rect x="462" y="365" width="1" height="15" fill="#fff"/>
<rect x="464" y="381" width="3" height="20" fill="#07215e"/><rect x="465" y="382" width="1" height="18" fill="#fff"/>
<rect x="466" y="392" width="3" height="9" fill="#07215e"/>
<rect x="469" y="392" width="3" height="35" fill="#07215e"/><rect x="470" y="393" width="1" height="33" fill="#fff"/>
<rect x="471" y="427" width="3" height="19" fill="#07215e"/><rect x="472" y="428" width="1" height="17" fill="#fff"/>
<rect x="474" y="431" width="3" height="15" fill="#07215e"/>
<rect x="476" y="431" width="3" height="33" fill="#07215e"/><rect x="477" y="432" width="1" height="31" fill="#fff"/>
<rect x="479" y="429" width="3" height="35" fill="#07215e"/>
<rect x="481" y="414" width="3" height="15" fill="#07215e"/>
<rect x="484" y="399" width="3" height="15" fill="#07215e"/>
<rect x="486" y="398" width="3" height="1" fill="#07215e"/>
<rect x="489" y="364" width="3" height="34" fill="#07215e"/>
<rect x="491" y="364" width="3" height="28" fill="#07215e"/><rect x="492" y="365" width="1" height="26" fill="#fff"/>
<rect x="494" y="392" width="3" height="15" fill="#07215e"/><rect x="495" y="393" width="1" height="13" fill="#fff"/>
<rect x="496" y="392" width="3" height="15" fill="#07215e"/>
<rect x="499" y="392" width="3" height="4" fill="#07215e"/><rect x="500" y="393" width="1" height="2" fill="#fff"/>
<rect x="501" y="390" width="3" height="6" fill="#07215e"/>
<rect x="503" y="368" width="3" height="22" fill="#07215e"/>
<rect x="506" y="366" width="3" height="2" fill="#07215e"/>
<rect x="508" y="366" width="3" height="26" fill="#07215e"/><rect x="509" y="367" width="1" height="24" fill="#fff"/>
<rect x="511" y="392" width="3" height="13" fill="#07215e"/><rect x="512" y="393" width="1" height="11" fill="#fff"/>
<rect x="513" y="368" width="3" height="37" fill="#07215e"/>
<rect x="516" y="344" width="3" height="24" fill="#07215e"/>
<rect x="518" y="340" width="3" height="4" fill="#07215e"/>
<rect x="521" y="339" width="3" height="1" fill="#07215e"/>
<rect x="523" y="339" width="3" height="1" fill="#07215e"/>
<rect x="526" y="339" width="3" height="1" fill="#07215e"/>
<rect x="528" y="318" width="3" height="22" fill="#07215e"/>
<rect x="531" y="317" width="3" height="1" fill="#07215e"/>
<rect x="533" y="316" width="3" height="1" fill="#07215e"/>
<rect x="536" y="316" width="3" height="19" fill="#07215e"/><rect x="537" y="317" width="1" height="17" fill="#fff"/>
<rect x="538" y="307" width="3" height="28" fill="#07215e"/>
<rect x="541" y="307" width="3" height="2" fill="#07215e"/>
<rect x="543" y="307" width="3" height="2" fill="#07215e"/>
<rect x="545" y="307" width="3" height="33" fill="#07215e"/><rect x="546" y="308" width="1" height="31" fill="#fff"/>
<rect x="548" y="340" width="3" height="2" fill="#07215e"/>
<rect x="550" y="327" width="3" height="15" fill="#07215e"/>
<rect x="553" y="315" width="3" height="12" fill="#07215e"/>
<rect x="555" y="307" width="3" height="8" fill="#07215e"/>
<rect x="558" y="307" width="3" height="9" fill="#07215e"/><rect x="559" y="308" width="1" height="7" fill="#fff"/>
<rect x="560" y="316" width="3" height="10" fill="#07215e"/><rect x="561" y="317" width="1" height="8" fill="#fff"/>
<rect x="563" y="326" width="3" height="25" fill="#07215e"/><rect x="564" y="327" width="1" height="23" fill="#fff"/>
<rect x="565" y="342" width="3" height="9" fill="#07215e"/>
<rect x="568" y="342" width="3" height="8" fill="#07215e"/><rect x="569" y="343" width="1" height="6" fill="#fff"/>
<rect x="570" y="346" width="3" height="4" fill="#07215e"/>
<rect x="573" y="342" width="3" height="4" fill="#07215e"/>
<rect x="575" y="342" width="3" height="2" fill="#07215e"/>
<rect x="578" y="340" width="3" height="4" fill="#07215e"/>
<rect x="580" y="333" width="3" height="7" fill="#07215e"/>
<rect x="583" y="307" width="3" height="26" fill="#07215e"/>
<rect x="585" y="307" width="3" height="13" fill="#07215e"/><rect x="586" y="308" width="1" height="11" fill="#fff"/>
<rect x="587" y="315" width="3" height="5" fill="#07215e"/>
<rect x="590" y="311" width="3" height="4" fill="#07215e"/>
<rect x="592" y="300" width="3" height="11" fill="#07215e"/>
<rect x="595" y="281" width="3" height="19" fill="#07215e"/>
<rect x="597" y="276" width="3" height="5" fill="#07215e"/>
<rect x="600" y="276" width="3" height="5" fill="#07215e"/><rect x="601" y="277" width="1" height="3" fill="#fff"/>
<rect x="602" y="270" width="3" height="11" fill="#07215e"/>
<rect x="605" y="255" width="3" height="15" fill="#07215e"/>
<rect x="607" y="241" width="3" height="14" fill="#07215e"/>
<rect x="610" y="241" width="3" height="5" fill="#07215e"/><rect x="611" y="242" width="1" height="3" fill="#fff"/>
<rect x="612" y="239" width="3" height="7" fill="#07215e"/>
<rect x="615" y="235" width="3" height="4" fill="#07215e"/>
<rect x="617" y="231" width="3" height="4" fill="#07215e"/>
<rect x="620" y="231" width="3" height="11" fill="#07215e"/><rect x="621" y="232" width="1" height="9" fill="#fff"/>
<rect x="622" y="242" width="3" height="12" fill="#07215e"/><rect x="623" y="243" width="1" height="10" fill="#fff"/>
<rect x="625" y="254" width="3" height="12" fill="#07215e"/><rect x="626" y="255" width="1" height="10" fill="#fff"/>
<rect x="627" y="265" width="3" height="1" fill="#07215e"/>
<rect x="629" y="237" width="3" height="28" fill="#07215e"/>
<rect x="632" y="220" width="3" height="17" fill="#07215e"/>
<rect x="634" y="217" width="3" height="3" fill="#07215e"/>
<rect x="637" y="217" width="3" height="2" fill="#07215e"/>
<rect x="639" y="219" width="3" height="3" fill="#07215e"/><rect x="640" y="220" width="1" height="1" fill="#fff"/>
<rect x="642" y="222" width="3" height="72" fill="#07215e"/><rect x="643" y="223" width="1" height="70" fill="#fff"/>
<rect x="644" y="291" width="3" height="3" fill="#07215e"/>
<rect x="647" y="288" width="3" height="3" fill="#07215e"/>
<rect x="649" y="287" width="3" height="1" fill="#07215e"/>
<rect x="652" y="272" width="3" height="15" fill="#07215e"/>
<rect x="654" y="251" width="3" height="21" fill="#07215e"/>
<rect x="657" y="251" width="3" height="8" fill="#07215e"/><rect x="658" y="252" width="1" height="6" fill="#fff"/>
<rect x="659" y="253" width="3" height="6" fill="#07215e"/>
<rect x="662" y="246" width="3" height="7" fill="#07215e"/>
<rect x="664" y="233" width="3" height="13" fill="#07215e"/>
<rect x="667" y="229" width="3" height="4" fill="#07215e"/>
<rect x="669" y="229" width="3" height="22" fill="#07215e"/><rect x="670" y="230" width="1" height="20" fill="#fff"/>
<rect x="671" y="251" width="3" height="23" fill="#07215e"/><rect x="672" y="252" width="1" height="21" fill="#fff"/>
<rect x="674" y="274" width="3" height="13" fill="#07215e"/><rect x="675" y="275" width="1" height="11" fill="#fff"/>
<rect x="676" y="272" width="3" height="15" fill="#07215e"/>
<rect x="679" y="236" width="3" height="36" fill="#07215e"/>
<rect x="681" y="172" width="3" height="64" fill="#07215e"/>
<rect x="684" y="172" width="3" height="13" fill="#07215e"/><rect x="685" y="173" width="1" height="11" fill="#fff"/>
<rect x="686" y="185" width="3" height="12" fill="#07215e"/><rect x="687" y="186" width="1" height="10" fill="#fff"/>
<rect x="689" y="197" width="3" height="6" fill="#07215e"/><rect x="690" y="198" width="1" height="4" fill="#fff"/>
<rect x="691" y="202" width="3" height="1" fill="#07215e"/>
<rect x="694" y="191" width="3" height="11" fill="#07215e"/>
<rect x="696" y="189" width="3" height="2" fill="#07215e"/>
<rect x="699" y="186" width="3" height="3" fill="#07215e"/>
<rect x="701" y="186" width="3" height="54" fill="#07215e"/><rect x="702" y="187" width="1" height="52" fill="#fff"/>
<rect x="704" y="222" width="3" height="18" fill="#07215e"/>
<rect x="706" y="222" width="3" height="33" fill="#07215e"/><rect x="707" y="223" width="1" height="31" fill="#fff"/>
<rect x="708" y="246" width="3" height="9" fill="#07215e"/>
<rect x="711" y="177" width="3" height="69" fill="#07215e"/>
<rect x="713" y="177" width="3" height="22" fill="#07215e"/><rect x="714" y="178" width="1" height="20" fill="#fff"/>
<rect x="716" y="121" width="3" height="78" fill="#07215e"/>
<rect x="718" y="121" width="3" height="43" fill="#07215e"/><rect x="719" y="122" width="1" height="41" fill="#fff"/>
<rect x="721" y="164" width="3" height="29" fill="#07215e"/><rect x="722" y="165" width="1" height="27" fill="#fff"/>
<rect x="723" y="193" width="3" height="6" fill="#07215e"/><rect x="724" y="194" width="1" height="4" fill="#fff"/>
<rect x="726" y="199" width="3" height="13" fill="#07215e"/><rect x="727" y="200" width="1" height="11" fill="#fff"/>
<rect x="728" y="207" width="3" height="5" fill="#07215e"/>
<rect x="731" y="207" width="3" height="11" fill="#07215e"/><rect x="732" y="208" width="1" height="9" fill="#fff"/>
<rect x="733" y="215" width="3" height="3" fill="#07215e"/>
<rect x="736" y="215" width="3" height="7" fill="#07215e"/><rect x="737" y="216" width="1" height="5" fill="#fff"/>
<rect x="738" y="222" width="3" height="1" fill="#07215e"/>
<rect x="741" y="222" width="3" height="8" fill="#07215e"/><rect x="742" y="223" width="1" height="6" fill="#fff"/>
<rect x="743" y="230" width="3" height="30" fill="#07215e"/><rect x="744" y="231" width="1" height="28" fill="#fff"/>
<rect x="746" y="260" width="3" height="10" fill="#07215e"/><rect x="747" y="261" width="1" height="8" fill="#fff"/>
<rect x="748" y="270" width="3" height="7" fill="#07215e"/><rect x="749" y="271" width="1" height="5" fill="#fff"/>
<rect x="750" y="261" width="3" height="16" fill="#07215e"/>
<rect x="753" y="261" width="3" height="7" fill="#07215e"/><rect x="754" y="262" width="1" height="5" fill="#fff"/>
<rect x="755" y="268" width="3" height="7" fill="#07215e"/><rect x="756" y="269" width="1" height="5" fill="#fff"/>
<rect x="758" y="259" width="3" height="16" fill="#07215e"/>
<rect x="760" y="259" width="3" height="28" fill="#07215e"/><rect x="761" y="260" width="1" height="26" fill="#fff"/>
<rect x="763" y="287" width="3" height="12" fill="#07215e"/><rect x="764" y="288" width="1" height="10" fill="#fff"/>
<rect x="765" y="299" width="3" height="15" fill="#07215e"/><rect x="766" y="300" width="1" height="13" fill="#fff"/>
<rect x="768" y="314" width="3" height="8" fill="#07215e"/><rect x="769" y="315" width="1" height="6" fill="#fff"/>
<rect x="770" y="322" width="3" height="43" fill="#07215e"/><rect x="771" y="323" width="1" height="41" fill="#fff"/>
<rect x="773" y="354" width="3" height="11" fill="#07215e"/>
<rect x="775" y="353" width="3" height="1" fill="#07215e"/>
<rect x="778" y="343" width="3" height="10" fill="#07215e"/>
<rect x="780" y="343" width="3" height="48" fill="#07215e"/><rect x="781" y="344" width="1" height="46" fill="#fff"/>
<rect x="783" y="391" width="3" height="17" fill="#07215e"/><rect x="784" y="392" width="1" height="15" fill="#fff"/>
<rect x="785" y="408" width="3" height="48" fill="#07215e"/><rect x="786" y="409" width="1" height="46" fill="#fff"/>
<rect x="788" y="456" width="3" height="20" fill="#07215e"/><rect x="789" y="457" width="1" height="18" fill="#fff"/>
<rect x="790" y="470" width="3" height="6" fill="#07215e"/>
<rect x="792" y="467" width="3" height="3" fill="#07215e"/>
<rect x="795" y="435" width="3" height="32" fill="#07215e"/>
<rect x="797" y="435" width="3" height="3" fill="#07215e"/><rect x="798" y="436" width="1" height="1" fill="#fff"/>
<rect x="800" y="427" width="3" height="11" fill="#07215e"/>
<rect x="802" y="413" width="3" height="14" fill="#07215e"/>
<rect x="805" y="389" width="3" height="24" fill="#07215e"/>
<rect x="807" y="388" width="3" height="1" fill="#07215e"/>
<rect x="810" y="388" width="3" height="12" fill="#07215e"/><rect x="811" y="389" width="1" height="10" fill="#fff"/>
<rect x="812" y="383" width="3" height="17" fill="#07215e"/>
<rect x="815" y="381" width="3" height="2" fill="#07215e"/>
<rect x="817" y="381" width="3" height="32" fill="#07215e"/><rect x="818" y="382" width="1" height="30" fill="#fff"/>
<rect x="820" y="405" width="3" height="8" fill="#07215e"/>
<rect x="822" y="405" width="3" height="2" fill="#07215e"/>
<rect x="825" y="407" width="3" height="28" fill="#07215e"/><rect x="826" y="408" width="1" height="26" fill="#fff"/>
<rect x="827" y="416" width="3" height="19" fill="#07215e"/>
<rect x="830" y="372" width="3" height="44" fill="#07215e"/>
<rect x="832" y="370" width="3" height="2" fill="#07215e"/>
<rect x="834" y="343" width="3" height="27" fill="#07215e"/>
<rect x="837" y="343" width="3" height="11" fill="#07215e"/><rect x="838" y="344" width="1" height="9" fill="#fff"/>
<rect x="839" y="354" width="3" height="2" fill="#07215e"/>
<rect x="842" y="356" width="3" height="27" fill="#07215e"/><rect x="843" y="357" width="1" height="25" fill="#fff"/>
<rect x="844" y="375" width="3" height="8" fill="#07215e"/>
<rect x="847" y="358" width="3" height="17" fill="#07215e"/>
<rect x="849" y="358" width="3" height="1" fill="#07215e"/>
<rect x="852" y="358" width="3" height="50" fill="#07215e"/><rect x="853" y="359" width="1" height="48" fill="#fff"/>
<rect x="854" y="408" width="3" height="35" fill="#07215e"/><rect x="855" y="409" width="1" height="33" fill="#fff"/>
<rect x="857" y="407" width="3" height="36" fill="#07215e"/>
<rect x="859" y="400" width="3" height="7" fill="#07215e"/>
<rect x="862" y="381" width="3" height="19" fill="#07215e"/>
<rect x="864" y="381" width="3" height="1" fill="#07215e"/>
<rect x="867" y="381" width="3" height="19" fill="#07215e"/><rect x="868" y="382" width="1" height="17" fill="#fff"/>
<rect x="869" y="380" width="3" height="20" fill="#07215e"/>
<rect x="872" y="380" width="3" height="1" fill="#07215e"/>
<rect x="874" y="380" width="3" height="17" fill="#07215e"/><rect x="875" y="381" width="1" height="15" fill="#fff"/>
<rect x="876" y="370" width="3" height="27" fill="#07215e"/>
<rect x="879" y="369" width="3" height="1" fill="#07215e"/>
<rect x="881" y="348" width="3" height="21" fill="#07215e"/>
<rect x="884" y="348" width="3" height="1" fill="#07215e"/>
<rect x="886" y="327" width="3" height="8" fill="#07215e"/>
<rect x="889" y="327" width="3" height="10" fill="#07215e"/><rect x="890" y="328" width="1" height="8" fill="#fff"/>
<rect x="891" y="337" width="3" height="2" fill="#07215e"/>
<rect x="894" y="339" width="3" height="42" fill="#07215e"/><rect x="895" y="340" width="1" height="40" fill="#fff"/>
<rect x="896" y="372" width="3" height="9" fill="#07215e"/>
<rect x="899" y="364" width="3" height="8" fill="#07215e"/>
<rect x="901" y="364" width="3" height="1" fill="#07215e"/>
<rect x="904" y="354" width="3" height="11" fill="#07215e"/>
<rect x="906" y="354" width="3" height="8" fill="#07215e"/><rect x="907" y="355" width="1" height="6" fill="#fff"/>
<rect x="909" y="342" width="3" height="20" fill="#07215e"/>
<rect x="911" y="342" width="3" height="3" fill="#07215e"/><rect x="912" y="343" width="1" height="1" fill="#fff"/>
<rect x="914" y="337" width="3" height="8" fill="#07215e"/>
<rect x="916" y="337" width="3" height="1" fill="#07215e"/>
<rect x="918" y="337" width="3" height="19" fill="#07215e"/><rect x="919" y="338" width="1" height="17" fill="#fff"/>
<rect x="921" y="331" width="3" height="25" fill="#07215e"/>
<rect x="923" y="331" width="3" height="3" fill="#07215e"/><rect x="924" y="332" width="1" height="1" fill="#fff"/>
<rect x="926" y="334" width="3" height="9" fill="#07215e"/><rect x="927" y="335" width="1" height="7" fill="#fff"/>
<rect x="928" y="343" width="3" height="10" fill="#07215e"/><rect x="929" y="344" width="1" height="8" fill="#fff"/>
<rect x="931" y="353" width="3" height="11" fill="#07215e"/><rect x="932" y="354" width="1" height="9" fill="#fff"/>
<rect x="933" y="364" width="3" height="6" fill="#07215e"/><rect x="934" y="365" width="1" height="4" fill="#fff"/>
<rect x="936" y="359" width="3" height="11" fill="#07215e"/>
<rect x="938" y="359" width="3" height="5" fill="#07215e"/><rect x="939" y="360" width="1" height="3" fill="#fff"/>
<rect x="941" y="358" width="3" height="6" fill="#07215e"/>
<rect x="943" y="358" width="3" height="9" fill="#07215e"/><rect x="944" y="359" width="1" height="7" fill="#fff"/>
<rect x="946" y="354" width="3" height="13" fill="#07215e"/>
<rect x="948" y="334" width="3" height="20" fill="#07215e"/>
<rect x="951" y="334" width="3" height="1" fill="#07215e"/>
<rect x="953" y="334" width="3" height="22" fill="#07215e"/><rect x="954" y="335" width="1" height="20" fill="#fff"/>
<rect x="955" y="356" width="3" height="6" fill="#07215e"/><rect x="956" y="357" width="1" height="4" fill="#fff"/>
<rect x="958" y="335" width="3" height="27" fill="#07215e"/>
<rect x="960" y="331" width="3" height="4" fill="#07215e"/>
<rect x="963" y="315" width="3" height="16" fill="#07215e"/>
<rect x="965" y="315" width="3" height="1" fill="#07215e"/>
<rect x="968" y="315" width="3" height="24" fill="#07215e"/><rect x="969" y="316" width="1" height="22" fill="#fff"/>
<rect x="970" y="339" width="3" height="19" fill="#07215e"/><rect x="971" y="340" width="1" height="17" fill="#fff"/>
<rect x="973" y="358" width="3" height="4" fill="#07215e"/><rect x="974" y="359" width="1" height="2" fill="#fff"/>
<rect x="975" y="301" width="3" height="61" fill="#07215e"/>
<rect x="978" y="301" width="3" height="11" fill="#07215e"/><rect x="979" y="302" width="1" height="9" fill="#fff"/>
<rect x="980" y="312" width="3" height="53" fill="#07215e"/><rect x="981" y="313" width="1" height="51" fill="#fff"/>
<rect x="983" y="365" width="3" height="18" fill="#07215e"/><rect x="984" y="366" width="1" height="16" fill="#fff"/>
<rect x="985" y="367" width="3" height="16" fill="#07215e"/>
<rect x="988" y="367" width="3" height="16" fill="#07215e"/><rect x="989" y="368" width="1" height="14" fill="#fff"/>
<rect x="990" y="383" width="3" height="20" fill="#07215e"/><rect x="991" y="384" width="1" height="18" fill="#fff"/>
<rect x="993" y="378" width="3" height="25" fill="#07215e"/>
<rect x="995" y="369" width="3" height="9" fill="#07215e"/>
<rect x="997" y="326" width="3" height="43" fill="#07215e"/>
<rect x="1000" y="326" width="3" height="1" fill="#07215e"/>
<rect x="1002" y="326" width="3" height="19" fill="#07215e"/><rect x="1003" y="327" width="1" height="17" fill="#fff"/>
<rect x="1005" y="345" width="3" height="6" fill="#07215e"/><rect x="1006" y="346" width="1" height="4" fill="#fff"/>
<rect x="1007" y="351" width="3" height="19" fill="#07215e"/><rect x="1008" y="352" width="1" height="17" fill="#fff"/>
<rect x="1010" y="370" width="3" height="7" fill="#07215e"/><rect x="1011" y="371" width="1" height="5" fill="#fff"/>
<rect x="1012" y="377" width="3" height="7" fill="#07215e"/><rect x="1013" y="378" width="1" height="5" fill="#fff"/>
<rect x="1015" y="384" width="3" height="10" fill="#07215e"/><rect x="1016" y="385" width="1" height="8" fill="#fff"/>
<rect x="1017" y="384" width="3" height="10" fill="#07215e"/>
<rect x="1020" y="375" width="3" height="9" fill="#07215e"/>
<rect x="1022" y="356" width="3" height="19" fill="#07215e"/>
<rect x="1025" y="327" width="3" height="29" fill="#07215e"/>
<rect x="1027" y="327" width="3" height="1" fill="#07215e"/>
<rect x="1030" y="327" width="3" height="10" fill="#07215e"/><rect x="1031" y="328" width="1" height="8" fill="#fff"/>
<rect x="1032" y="337" width="3" height="17" fill="#07215e"/><rect x="1033" y="338" width="1" height="15" fill="#fff"/>
<rect x="1035" y="346" width="3" height="8" fill="#07215e"/>
<rect x="1037" y="340" width="3" height="6" fill="#07215e"/>
<rect x="1039" y="340" width="3" height="24" fill="#07215e"/><rect x="1040" y="341" width="1" height="22" fill="#fff"/>
<rect x="1042" y="364" width="3" height="10" fill="#07215e"/><rect x="1043" y="365" width="1" height="8" fill="#fff"/>
<rect x="1044" y="374" width="3" height="25" fill="#07215e"/><rect x="1045" y="375" width="1" height="23" fill="#fff"/>
<rect x="1047" y="388" width="3" height="11" fill="#07215e"/>
<rect x="1049" y="388" width="3" height="11" fill="#07215e"/><rect x="1050" y="389" width="1" height="9" fill="#fff"/>
<rect x="1052" y="399" width="3" height="37" fill="#07215e"/><rect x="1053" y="400" width="1" height="35" fill="#fff"/>
<rect x="1054" y="436" width="3" height="6" fill="#07215e"/><rect x="1055" y="437" width="1" height="4" fill="#fff"/>
<rect x="1057" y="442" width="3" height="6" fill="#07215e"/><rect x="1058" y="443" width="1" height="4" fill="#fff"/>
<rect x="1059" y="448" width="3" height="11" fill="#07215e"/><rect x="1060" y="449" width="1" height="9" fill="#fff"/>
<rect x="1062" y="459" width="3" height="11" fill="#07215e"/><rect x="1063" y="460" width="1" height="9" fill="#fff"/>
<rect x="1064" y="457" width="3" height="13" fill="#07215e"/>
<rect x="1067" y="446" width="3" height="11" fill="#07215e"/>
<rect x="1069" y="425" width="3" height="21" fill="#07215e"/>
<rect x="1072" y="394" width="3" height="31" fill="#07215e"/>
<rect x="1074" y="348" width="3" height="46" fill="#07215e"/>
<rect x="1077" y="348" width="3" height="22" fill="#07215e"/><rect x="1078" y="349" width="1" height="20" fill="#fff"/>
<rect x="1079" y="359" width="3" height="11" fill="#07215e"/>
<rect x="1081" y="359" width="3" height="2" fill="#07215e"/>
<rect x="1084" y="357" width="3" height="4" fill="#07215e"/>
<rect x="1086" y="285" width="3" height="72" fill="#07215e"/>
<rect x="1089" y="285" width="3" height="1" fill="#07215e"/>
<rect x="1091" y="252" width="3" height="33" fill="#07215e"/>
<rect x="1094" y="248" width="3" height="4" fill="#07215e"/>
<rect x="1096" y="248" width="3" height="48" fill="#07215e"/><rect x="1097" y="249" width="1" height="46" fill="#fff"/>
<rect x="1099" y="296" width="3" height="2" fill="#07215e"/>
<rect x="1101" y="298" width="3" height="65" fill="#07215e"/><rect x="1102" y="299" width="1" height="63" fill="#fff"/>
<rect x="1104" y="355" width="3" height="8" fill="#07215e"/>
<rect x="1106" y="340" width="3" height="15" fill="#07215e"/>
<rect x="1109" y="340" width="3" height="23" fill="#07215e"/><rect x="1110" y="341" width="1" height="21" fill="#fff"/>
<rect x="1111" y="346" width="3" height="17" fill="#07215e"/>
<rect x="1114" y="344" width="3" height="2" fill="#07215e"/>
<rect x="1116" y="333" width="3" height="11" fill="#07215e"/>
<rect x="1119" y="333" width="3" height="1" fill="#07215e"/>
<rect x="1121" y="333" width="3" height="18" fill="#07215e"/><rect x="1122" y="334" width="1" height="16" fill="#fff"/>
<rect x="1123" y="351" width="3" height="21" fill="#07215e"/><rect x="1124" y="352" width="1" height="19" fill="#fff"/>
<rect x="1126" y="372" width="3" height="7" fill="#07215e"/><rect x="1127" y="373" width="1" height="5" fill="#fff"/>
<rect x="1128" y="379" width="3" height="28" fill="#07215e"/><rect x="1129" y="380" width="1" height="26" fill="#fff"/>
<rect x="1131" y="407" width="3" height="41" fill="#07215e"/><rect x="1132" y="408" width="1" height="39" fill="#fff"/>
<rect x="1133" y="446" width="3" height="2" fill="#07215e"/>
<rect x="1136" y="446" width="3" height="9" fill="#07215e"/><rect x="1137" y="447" width="1" height="7" fill="#fff"/>
<rect x="1138" y="455" width="3" height="4" fill="#07215e"/><rect x="1139" y="456" width="1" height="2" fill="#fff"/>
<rect x="1141" y="444" width="3" height="15" fill="#07215e"/>
<rect x="1143" y="444" width="3" height="4" fill="#07215e"/><rect x="1144" y="445" width="1" height="2" fill="#fff"/>
<rect x="1146" y="433" width="3" height="15" fill="#07215e"/>
<rect x="1148" y="433" width="3" height="2" fill="#07215e"/>
<rect x="1151" y="435" width="3" height="3" fill="#07215e"/><rect x="1152" y="436" width="1" height="1" fill="#fff"/>
<rect x="1153" y="411" width="3" height="27" fill="#07215e"/>
<rect x="1156" y="390" width="3" height="21" fill="#07215e"/>
<rect x="1158" y="390" width="3" height="35" fill="#07215e"/><rect x="1159" y="391" width="1" height="33" fill="#fff"/>
<rect x="1161" y="423" width="3" height="2" fill="#07215e"/>
<rect x="1163" y="405" width="3" height="18" fill="#07215e"/>
<rect x="1165" y="381" width="3" height="24" fill="#07215e"/>
<rect x="1168" y="381" width="3" height="11" fill="#07215e"/><rect x="1169" y="382" width="1" height="9" fill="#fff"/>
<rect x="1170" y="374" width="3" height="18" fill="#07215e"/>
<rect x="1173" y="353" width="3" height="21" fill="#07215e"/>
<rect x="1175" y="318" width="3" height="35" fill="#07215e"/>
<rect x="1178" y="318" width="3" height="8" fill="#07215e"/><rect x="1179" y="319" width="1" height="6" fill="#fff"/>
<rect x="1180" y="309" width="3" height="17" fill="#07215e"/>
<rect x="1183" y="309" width="3" height="13" fill="#07215e"/><rect x="1184" y="310" width="1" height="11" fill="#fff"/>
<rect x="1185" y="321" width="3" height="1" fill="#07215e"/>
<rect x="1188" y="320" width="3" height="1" fill="#07215e"/>
<rect x="1190" y="296" width="3" height="24" fill="#07215e"/>
<rect x="1193" y="294" width="3" height="2" fill="#07215e"/>
<rect x="1195" y="294" width="3" height="4" fill="#07215e"/><rect x="1196" y="295" width="1" height="2" fill="#fff"/>
<rect x="1198" y="296" width="3" height="2" fill="#07215e"/>
<rect x="1200" y="292" width="3" height="4" fill="#07215e"/>
<rect x="1202" y="292" width="3" height="6" fill="#07215e"/><rect x="1203" y="293" width="1" height="4" fill="#fff"/>
<rect x="1205" y="298" width="3" height="1" fill="#07215e"/>
<rect x="1207" y="298" width="3" height="18" fill="#07215e"/><rect x="1208" y="299" width="1" height="16" fill="#fff"/>
<rect x="1210" y="316" width="3" height="1" fill="#07215e"/>
<rect x="1212" y="296" width="3" height="20" fill="#07215e"/>
<rect x="1215" y="292" width="3" height="4" fill="#07215e"/>
<rect x="1217" y="257" width="3" height="35" fill="#07215e"/>
<rect x="1220" y="257" width="3" height="1" fill="#07215e"/>
<rect x="1222" y="257" width="3" height="2" fill="#07215e"/>
<rect x="1225" y="259" width="3" height="41" fill="#07215e"/><rect x="1226" y="260" width="1" height="39" fill="#fff"/>
<rect x="1227" y="276" width="3" height="24" fill="#07215e"/>
<rect x="1230" y="276" width="3" height="14" fill="#07215e"/><rect x="1231" y="277" width="1" height="12" fill="#fff"/>
<rect x="1232" y="290" width="3" height="13" fill="#07215e"/><rect x="1233" y="291" width="1" height="11" fill="#fff"/>
<rect x="1235" y="278" width="3" height="25" fill="#07215e"/>
<rect x="1237" y="278" width="3" height="9" fill="#07215e"/><rect x="1238" y="279" width="1" height="7" fill="#fff"/>
<rect x="1240" y="276" width="3" height="11" fill="#07215e"/>
<rect x="1242" y="276" width="3" height="22" fill="#07215e"/><rect x="1243" y="277" width="1" height="20" fill="#fff"/>
<rect x="1244" y="298" width="3" height="31" fill="#07215e"/><rect x="1245" y="299" width="1" height="29" fill="#fff"/>
<rect x="1247" y="322" width="3" height="7" fill="#07215e"/>
<rect x="1249" y="320" width="3" height="2" fill="#07215e"/>
<rect x="1252" y="314" width="3" height="6" fill="#07215e"/>
<rect x="1254" y="307" width="3" height="7" fill="#07215e"/>
<rect x="1257" y="307" width="3" height="2" fill="#07215e"/>
<rect x="1259" y="309" width="3" height="17" fill="#07215e"/><rect x="1260" y="310" width="1" height="15" fill="#fff"/>
<rect x="1262" y="307" width="3" height="19" fill="#07215e"/>
<rect x="1264" y="307" width="3" height="8" fill="#07215e"/><rect x="1265" y="308" width="1" height="6" fill="#fff"/>
<rect x="1267" y="309" width="3" height="6" fill="#07215e"/>
<rect x="1269" y="298" width="3" height="11" fill="#07215e"/>
<rect x="1272" y="296" width="3" height="2" fill="#07215e"/>
<rect x="1274" y="296" width="3" height="55" fill="#07215e"/><rect x="1275" y="297" width="1" height="53" fill="#fff"/>
<rect x="1277" y="351" width="3" height="17" fill="#07215e"/><rect x="1278" y="352" width="1" height="15" fill="#fff"/>
<rect x="1279" y="368" width="3" height="6" fill="#07215e"/><rect x="1280" y="369" width="1" height="4" fill="#fff"/>
<rect x="1282" y="364" width="3" height="10" fill="#07215e"/>
<rect x="1284" y="362" width="3" height="2" fill="#07215e"/>
<rect x="1286" y="362" width="3" height="13" fill="#07215e"/><rect x="1287" y="363" width="1" height="11" fill="#fff"/>
<rect x="1289" y="399" width="3" height="10" fill="#07215e"/>
<rect x="1291" y="399" width="3" height="4" fill="#07215e"/><rect x="1292" y="400" width="1" height="2" fill="#fff"/>
<rect x="1294" y="401" width="3" height="2" fill="#07215e"/>
<rect x="1296" y="401" width="3" height="11" fill="#07215e"/><rect x="1297" y="402" width="1" height="9" fill="#fff"/>
<rect x="1299" y="412" width="3" height="35" fill="#07215e"/><rect x="1300" y="413" width="1" height="33" fill="#fff"/>
<rect x="1301" y="445" width="3" height="2" fill="#07215e"/>
<rect x="1304" y="444" width="3" height="1" fill="#07215e"/>
<rect x="1306" y="444" width="3" height="28" fill="#07215e"/><rect x="1307" y="445" width="1" height="26" fill="#fff"/>
<rect x="1309" y="472" width="3" height="18" fill="#07215e"/><rect x="1310" y="473" width="1" height="16" fill="#fff"/>
<rect x="1311" y="490" width="3" height="42" fill="#07215e"/><rect x="1312" y="491" width="1" height="40" fill="#fff"/>
<rect x="1314" y="532" width="3" height="6" fill="#07215e"/><rect x="1315" y="533" width="1" height="4" fill="#fff"/>
<rect x="1316" y="538" width="3" height="5" fill="#07215e"/><rect x="1317" y="539" width="1" height="3" fill="#fff"/>
<rect x="1319" y="543" width="3" height="25" fill="#07215e"/><rect x="1320" y="544" width="1" height="23" fill="#fff"/>
<rect x="1321" y="541" width="3" height="27" fill="#07215e"/>
<rect x="1324" y="521" width="3" height="20" fill="#07215e"/>
<rect x="1326" y="521" width="3" height="26" fill="#07215e"/><rect x="1327" y="522" width="1" height="24" fill="#fff"/>
<rect x="1328" y="490" width="3" height="57" fill="#07215e"/>
<rect x="1331" y="490" width="3" height="11" fill="#07215e"/><rect x="1332" y="491" width="1" height="9" fill="#fff"/>
<rect x="1333" y="483" width="3" height="18" fill="#07215e"/>
<rect x="1336" y="483" width="3" height="1" fill="#07215e"/>
<rect x="1338" y="484" width="3" height="28" fill="#07215e"/><rect x="1339" y="485" width="1" height="26" fill="#fff"/>
<rect x="1341" y="512" width="3" height="17" fill="#07215e"/><rect x="1342" y="513" width="1" height="15" fill="#fff"/>
<rect x="1343" y="529" width="3" height="14" fill="#07215e"/><rect x="1344" y="530" width="1" height="12" fill="#fff"/>
<rect x="1346" y="543" width="3" height="1" fill="#07215e"/>
</g>

<!-- logo -->
<g id="logo">
<g fill="#27486d">
<path d="M290.0 103.5 L290.4 103.1 L291.0 102.7 L291.6 102.2 L292.3 101.6 L293.2 100.9 L294.0 100.2 L294.9 99.5 L295.7 98.7 L296.6 97.8 L297.5 97.0 L298.5 96.0 L299.4 95.1 L300.4 94.1 L301.3 93.2 L302.2 92.4 L303.0 91.6 L303.9 90.8 L304.8 90.0 L305.7 89.3 L306.5 88.6 L307.4 87.9 L308.2 87.3 L309.1 86.7 L309.9 86.1 L310.8 85.5 L311.6 85.0 L312.5 84.4 L313.4 84.0 L314.2 83.5 L315.0 83.1 L315.8 82.8 L316.5 82.5 L317.1 82.3 L317.8 82.1 L318.4 81.9 L319.0 81.8 L319.5 81.8 L319.9 81.8 L320.2 81.8 L320.5 81.8 L320.7 81.8 L320.9 81.9 L321.1 82.0 L321.3 82.1 L321.5 82.2 L321.6 82.3 L321.8 82.5 L322.0 82.7 L322.1 83.0 L322.3 83.4 L322.5 83.8 L322.6 84.3 L322.7 84.9 L322.8 85.6 L322.9 86.3 L323.0 87.1 L323.1 87.9 L323.1 88.8 L323.1 89.8 L323.0 90.8 L323.0 91.9 L322.9 93.0 L322.8 94.1 L322.6 95.2 L322.4 96.3 L322.2 97.5 L321.9 98.7 L321.6 99.9 L321.3 101.2 L320.9 102.4 L320.5 103.6 L320.1 104.9 L319.7 106.1 L319.2 107.3 L318.7 108.5 L318.2 109.7 L317.7 110.9 L317.1 112.1 L316.5 113.4 L315.9 114.7 L315.3 116.0 L314.6 117.3 L313.9 118.7 L313.2 120.0 L312.4 121.4 L311.7 122.7 L310.9 124.1 L310.2 125.4 L309.4 126.6 L308.7 127.9 L307.9 129.2 L307.1 130.4 L306.2 131.7 L305.4 132.9 L304.6 134.2 L303.8 135.4 L302.9 136.6 L302.1 137.8 L301.2 139.0 L300.3 140.2 L299.5 141.4 L298.6 142.6 L297.8 143.7 L297.1 144.8 L296.4 145.8 L295.7 146.9 L295.0 147.9 L294.4 148.9 L293.8 149.8 L293.3 150.6 L292.9 151.2 L292.6 151.7 L298.0 155.1 L298.3 154.5 L298.7 153.9 L299.2 153.1 L299.7 152.1 L300.3 151.2 L300.9 150.2 L301.5 149.1 L302.2 148.1 L302.9 147.1 L303.6 146.0 L304.4 144.8 L305.2 143.6 L306.0 142.4 L306.9 141.1 L307.7 139.9 L308.6 138.6 L309.4 137.4 L310.2 136.1 L311.1 134.9 L311.9 133.6 L312.7 132.3 L313.6 131.0 L314.4 129.7 L315.2 128.3 L316.0 127.0 L316.8 125.6 L317.5 124.2 L318.3 122.8 L319.0 121.4 L319.8 120.0 L320.5 118.6 L321.1 117.2 L321.8 115.9 L322.4 114.6 L323.0 113.3 L323.5 112.0 L324.1 110.7 L324.6 109.4 L325.1 108.1 L325.6 106.7 L326.0 105.4 L326.5 104.1 L326.8 102.7 L327.2 101.3 L327.5 100.0 L327.8 98.7 L328.1 97.4 L328.3 96.1 L328.5 94.9 L328.7 93.6 L328.9 92.4 L329.0 91.2 L329.0 90.0 L329.1 88.9 L329.1 87.8 L329.1 86.8 L329.1 85.8 L329.0 84.8 L328.9 83.9 L328.7 83.0 L328.5 82.1 L328.2 81.2 L327.9 80.3 L327.5 79.5 L327.0 78.7 L326.5 78.0 L325.8 77.4 L325.1 76.8 L324.4 76.2 L323.5 75.8 L322.6 75.5 L321.7 75.2 L320.8 75.1 L319.8 75.1 L318.9 75.1 L317.9 75.2 L317.0 75.4 L316.0 75.6 L315.1 75.9 L314.2 76.3 L313.2 76.6 L312.2 77.1 L311.2 77.6 L310.2 78.1 L309.2 78.7 L308.2 79.3 L307.2 79.9 L306.2 80.5 L305.2 81.2 L304.2 81.9 L303.3 82.6 L302.3 83.4 L301.4 84.2 L300.4 85.0 L299.5 85.8 L298.6 86.6 L297.6 87.6 L296.6 88.5 L295.6 89.5 L294.7 90.5 L293.8 91.5 L292.9 92.4 L292.1 93.3 L291.3 94.0 L290.6 94.8 L289.8 95.5 L289.1 96.2 L288.3 96.8 L287.6 97.5 L287.0 98.0 L286.5 98.5 L286.0 98.8Z"/><circle cx="288.0" cy="101.2" r="3.0"/><circle cx="295.3" cy="153.4" r="3.2"/>
<path d="M296.2 157.1 L296.7 156.8 L297.4 156.5 L298.2 156.0 L299.1 155.6 L300.0 155.1 L301.0 154.5 L302.0 154.0 L302.9 153.6 L303.9 153.1 L304.9 152.6 L305.9 152.1 L307.0 151.6 L308.1 151.1 L309.2 150.6 L310.3 150.2 L311.4 149.7 L312.4 149.3 L313.5 148.8 L314.6 148.4 L315.6 147.9 L316.7 147.5 L317.7 147.2 L318.8 146.8 L319.9 146.5 L320.9 146.2 L322.0 146.0 L323.0 145.8 L324.1 145.6 L325.1 145.4 L326.2 145.2 L327.3 145.1 L328.4 144.9 L329.6 144.7 L330.9 144.6 L332.3 144.4 L333.7 144.3 L335.0 144.2 L336.1 144.1 L337.1 144.0 L337.8 143.9 L337.8 143.5 L337.1 143.5 L336.1 143.5 L334.9 143.6 L333.6 143.6 L332.2 143.7 L330.9 143.7 L329.5 143.8 L328.3 143.9 L327.2 144.0 L326.1 144.1 L325.0 144.2 L323.9 144.3 L322.8 144.4 L321.7 144.5 L320.6 144.7 L319.5 144.9 L318.4 145.2 L317.2 145.5 L316.1 145.8 L315.0 146.1 L313.9 146.5 L312.8 146.8 L311.7 147.2 L310.6 147.5 L309.4 147.9 L308.3 148.2 L307.1 148.6 L306.0 148.9 L304.8 149.3 L303.7 149.6 L302.6 150.0 L301.6 150.3 L300.5 150.7 L299.5 151.1 L298.4 151.5 L297.4 152.0 L296.4 152.3 L295.6 152.7 L294.9 153.0 L294.4 153.2Z"/>
<path d="M349.3 89.8 L349.9 90.0 L350.7 90.2 L351.7 90.5 L352.8 90.9 L354.1 91.2 L355.4 91.6 L356.7 91.9 L357.9 92.2 L359.2 92.5 L360.5 92.7 L361.8 93.0 L363.2 93.3 L364.6 93.5 L365.9 93.7 L367.3 93.9 L368.7 94.0 L370.0 94.1 L371.3 94.1 L372.5 94.1 L373.7 94.1 L374.9 94.0 L376.0 93.9 L377.2 93.7 L378.3 93.6 L379.4 93.4 L380.4 93.2 L381.5 92.9 L382.5 92.7 L383.6 92.4 L384.6 92.0 L385.5 91.7 L386.5 91.3 L387.4 90.8 L388.4 90.3 L389.2 89.8 L390.1 89.3 L390.9 88.7 L391.7 88.0 L392.5 87.4 L393.3 86.7 L394.0 85.9 L394.6 85.1 L395.2 84.3 L395.7 83.5 L396.2 82.7 L396.6 82.0 L396.9 81.3 L397.3 80.6 L397.7 79.8 L398.1 79.0 L398.4 78.3 L398.6 77.6 L398.8 77.0 L399.0 76.6 L399.2 76.2 L399.3 75.8 L399.5 75.4 L399.8 75.0 L400.1 74.6 L400.3 74.2 L400.5 73.9 L400.6 73.7 L400.7 73.6 L400.5 73.5 L400.2 73.4 L400.2 73.3 L400.4 73.1 L400.7 72.9 L401.1 72.8 L401.6 72.7 L402.0 72.7 L402.4 72.7 L403.0 70.4 L402.8 70.2 L402.6 70.0 L402.3 69.6 L401.8 69.2 L401.3 68.8 L400.5 68.5 L399.6 68.3 L398.5 68.4 L397.5 68.8 L396.8 69.2 L396.2 69.7 L395.6 70.2 L395.2 70.8 L394.7 71.3 L394.3 71.9 L393.9 72.5 L393.4 73.2 L393.1 73.9 L392.8 74.6 L392.5 75.2 L392.3 75.8 L392.0 76.4 L391.8 76.8 L391.5 77.3 L391.1 77.9 L390.7 78.5 L390.3 79.1 L389.9 79.6 L389.5 80.1 L389.1 80.6 L388.7 81.0 L388.3 81.4 L387.8 81.7 L387.3 82.1 L386.7 82.5 L386.1 82.8 L385.5 83.2 L384.8 83.5 L384.1 83.8 L383.5 84.0 L382.8 84.3 L382.0 84.5 L381.3 84.7 L380.5 84.9 L379.7 85.1 L378.9 85.3 L378.1 85.4 L377.2 85.5 L376.3 85.6 L375.3 85.7 L374.4 85.7 L373.4 85.8 L372.4 85.8 L371.4 85.8 L370.4 85.7 L369.3 85.6 L368.3 85.5 L367.1 85.4 L365.9 85.2 L364.7 85.0 L363.4 84.7 L362.2 84.5 L360.9 84.2 L359.8 84.0 L358.7 83.7 L357.5 83.4 L356.3 83.1 L355.2 82.8 L354.1 82.5 L353.1 82.2 L352.3 81.9 L351.6 81.7Z"/><circle cx="350.4" cy="85.8" r="4.2"/><circle cx="402.7" cy="71.5" r="1.2"/>
<path d="M349.1 91.3 L349.9 91.7 L350.9 92.2 L352.1 92.7 L353.4 93.4 L354.7 94.0 L356.0 94.7 L357.2 95.5 L358.3 96.2 L359.4 96.9 L360.5 97.7 L361.6 98.6 L362.6 99.5 L363.7 100.5 L364.7 101.5 L365.8 102.5 L366.8 103.5 L367.7 104.5 L368.6 105.6 L369.5 106.7 L370.4 107.9 L371.3 109.0 L372.2 110.2 L373.0 111.4 L373.9 112.6 L374.8 113.8 L375.7 114.9 L376.6 116.0 L377.4 117.2 L378.2 118.3 L379.0 119.4 L379.8 120.5 L380.6 121.7 L381.3 122.8 L382.0 124.0 L382.7 125.2 L383.4 126.4 L384.1 127.6 L384.7 128.8 L385.4 130.0 L385.9 131.2 L386.5 132.4 L387.0 133.7 L387.5 134.9 L387.9 136.2 L388.4 137.4 L388.8 138.7 L389.1 139.8 L389.4 140.9 L389.7 141.9 L389.9 142.9 L390.1 143.8 L390.2 144.6 L390.3 145.4 L390.3 146.2 L390.3 147.0 L390.3 147.8 L390.2 148.5 L390.0 149.2 L389.8 149.9 L389.5 150.6 L389.3 151.3 L389.0 151.9 L388.6 152.4 L388.4 152.9 L388.1 153.2 L387.7 153.5 L387.3 153.8 L386.9 154.0 L386.4 154.2 L386.0 154.4 L385.6 154.6 L385.3 154.7 L386.1 156.1 L386.3 156.0 L386.6 155.9 L387.1 155.7 L387.6 155.5 L388.1 155.2 L388.7 154.9 L389.3 154.5 L389.7 153.9 L390.1 153.4 L390.5 152.7 L390.9 152.0 L391.2 151.3 L391.5 150.5 L391.8 149.7 L392.0 148.9 L392.2 148.0 L392.3 147.2 L392.4 146.3 L392.4 145.4 L392.4 144.5 L392.4 143.5 L392.4 142.5 L392.3 141.5 L392.1 140.4 L392.0 139.2 L391.8 137.9 L391.6 136.6 L391.3 135.3 L391.0 133.9 L390.7 132.5 L390.3 131.1 L389.8 129.7 L389.4 128.3 L388.8 127.0 L388.3 125.6 L387.7 124.3 L387.1 122.9 L386.4 121.6 L385.7 120.3 L385.0 119.0 L384.3 117.7 L383.5 116.4 L382.8 115.2 L381.9 113.9 L381.1 112.7 L380.3 111.5 L379.4 110.4 L378.6 109.2 L377.8 108.0 L376.9 106.8 L376.1 105.5 L375.2 104.3 L374.2 103.0 L373.3 101.8 L372.3 100.6 L371.3 99.4 L370.2 98.2 L369.2 97.1 L368.1 96.0 L367.0 94.9 L365.8 93.8 L364.7 92.7 L363.5 91.7 L362.3 90.8 L360.9 89.8 L359.5 88.9 L358.1 88.0 L356.7 87.2 L355.4 86.5 L354.2 85.8 L353.3 85.3 L352.6 84.9Z"/><circle cx="350.9" cy="88.1" r="3.6"/>
<path d="M385.8 154.6 L385.2 154.6 L384.6 154.6 L383.8 154.6 L382.9 154.6 L382.0 154.6 L381.1 154.5 L380.2 154.4 L379.3 154.2 L378.5 154.0 L377.6 153.7 L376.7 153.4 L375.8 153.1 L374.9 152.7 L374.0 152.3 L373.1 151.9 L372.1 151.5 L371.2 151.0 L370.3 150.5 L369.3 150.0 L368.3 149.4 L367.3 148.9 L366.4 148.3 L365.6 147.8 L364.8 147.4 L364.1 146.9 L363.5 146.6 L362.8 146.2 L362.3 145.8 L361.8 145.5 L361.3 145.3 L361.0 145.0 L360.7 144.9 L360.5 145.1 L360.8 145.3 L361.2 145.6 L361.6 145.9 L362.1 146.2 L362.6 146.6 L363.2 147.0 L363.8 147.4 L364.5 147.8 L365.2 148.3 L366.1 148.9 L366.9 149.5 L367.9 150.1 L368.8 150.7 L369.8 151.3 L370.8 151.9 L371.7 152.4 L372.6 152.9 L373.5 153.3 L374.4 153.8 L375.4 154.2 L376.3 154.6 L377.2 154.9 L378.1 155.2 L379.0 155.5 L380.0 155.7 L380.9 155.9 L381.9 156.0 L382.9 156.1 L383.7 156.1 L384.5 156.2 L385.2 156.2 L385.7 156.2Z"/>
<path d="M351.2 136.1 L351.4 136.2 L351.5 136.4 L351.8 136.7 L352.0 136.9 L352.3 137.2 L352.6 137.5 L352.9 137.7 L353.2 138.0 L353.5 138.2 L353.8 138.4 L354.1 138.7 L354.5 138.9 L354.8 139.1 L355.1 139.3 L355.4 139.5 L355.6 139.6 L355.7 139.4 L355.6 139.2 L355.3 139.0 L355.1 138.8 L354.8 138.5 L354.4 138.3 L354.1 138.0 L353.8 137.7 L353.5 137.5 L353.2 137.3 L352.9 137.0 L352.6 136.8 L352.3 136.6 L352.0 136.4 L351.8 136.2 L351.6 136.0 L351.4 135.9Z"/>
</g>
<text class="logo" x="264.3" y="196.9" textLength="161.5" lengthAdjust="spacingAndGlyphs">2ND SKIES</text>
<rect x="294" y="211.4" width="101.8" height="2" fill="#2a486e"/>
<text class="logo" x="275.9" y="248.1" textLength="137" lengthAdjust="spacingAndGlyphs">TRADING</text>
</g>

<!-- red rect + arrow -->
<rect x="1307" y="571" width="33" height="61" fill="none" stroke="#c9151b" stroke-width="2" shape-rendering="crispEdges"/>
<path d="M1410.7 445.8 L1388 467.4 L1399.2 462.6 C1392.2 489.9 1385.2 517.3 1378.2 544.6 C1392.1 519.7 1402.8 493.5 1410.3 466 L1416.7 477.7 Z" fill="#c40008"/>

<!-- axes -->
<g shape-rendering="crispEdges" fill="#0a275f">
<rect x="1482" y="0" width="1" height="758"/>
<rect x="0" y="735" width="1534" height="1"/>
</g>
<g shape-rendering="crispEdges" fill="#0a275f">
<rect x="1483" y="18" width="4" height="1"/>
<rect x="1483" y="56" width="4" height="1"/>
<rect x="1483" y="94" width="4" height="1"/>
<rect x="1483" y="132" width="4" height="1"/>
<rect x="1483" y="170" width="4" height="1"/>
<rect x="1483" y="208" width="4" height="1"/>
<rect x="1483" y="246" width="4" height="1"/>
<rect x="1483" y="284" width="4" height="1"/>
<rect x="1483" y="322" width="4" height="1"/>
<rect x="1483" y="361" width="4" height="1"/>
<rect x="1483" y="399" width="4" height="1"/>
<rect x="1483" y="437" width="4" height="1"/>
<rect x="1483" y="475" width="4" height="1"/>
<rect x="1483" y="513" width="4" height="1"/>
<rect x="1483" y="551" width="4" height="1"/>
<rect x="1483" y="589" width="4" height="1"/>
<rect x="1483" y="627" width="4" height="1"/>
<rect x="1483" y="665" width="4" height="1"/>
<rect x="1483" y="703" width="4" height="1"/>
<rect x="72" y="736" width="1" height="3"/>
<rect x="220" y="736" width="1" height="3"/>
<rect x="309" y="736" width="1" height="3"/>
<rect x="443" y="736" width="1" height="3"/>
<rect x="532" y="736" width="1" height="3"/>
<rect x="652" y="736" width="1" height="3"/>
<rect x="740" y="736" width="1" height="3"/>
<rect x="829" y="736" width="1" height="3"/>
<rect x="960" y="736" width="1" height="3"/>
<rect x="1036" y="736" width="1" height="3"/>
<rect x="1185" y="736" width="1" height="3"/>
<rect x="1266" y="736" width="1" height="3"/>
<rect x="1368" y="736" width="1" height="3"/>
<rect x="1457" y="736" width="1" height="3"/>
</g>
<text class="ax" x="1491.1" y="22.6" textLength="38.5" lengthAdjust="spacingAndGlyphs">0.69400</text>
<text class="ax" x="1491.1" y="60.7" textLength="38.5" lengthAdjust="spacingAndGlyphs">0.69200</text>
<text class="ax" x="1491.1" y="98.7" textLength="38.5" lengthAdjust="spacingAndGlyphs">0.69000</text>
<text class="ax" x="1491.1" y="136.8" textLength="38.5" lengthAdjust="spacingAndGlyphs">0.68800</text>
<text class="ax" x="1491.1" y="174.8" textLength="38.5" lengthAdjust="spacingAndGlyphs">0.68600</text>
<text class="ax" x="1491.1" y="212.9" textLength="38.5" lengthAdjust="spacingAndGlyphs">0.68400</text>
<text class="ax" x="1491.1" y="251.0" textLength="38.5" lengthAdjust="spacingAndGlyphs">0.68200</text>
<text class="ax" x="1491.1" y="289.0" textLength="38.5" lengthAdjust="spacingAndGlyphs">0.68000</text>
<text class="ax" x="1491.1" y="327.1" textLength="38.5" lengthAdjust="spacingAndGlyphs">0.67800</text>
<text class="ax" x="1491.1" y="365.1" textLength="38.5" lengthAdjust="spacingAndGlyphs">0.67600</text>
<text class="ax" x="1491.1" y="403.2" textLength="38.5" lengthAdjust="spacingAndGlyphs">0.67400</text>
<text class="ax" x="1491.1" y="441.3" textLength="38.5" lengthAdjust="spacingAndGlyphs">0.67200</text>
<text class="ax" x="1491.1" y="479.3" textLength="38.5" lengthAdjust="spacingAndGlyphs">0.67000</text>
<text class="ax" x="1491.1" y="517.4" textLength="38.5" lengthAdjust="spacingAndGlyphs">0.66800</text>
<text class="ax" x="1491.1" y="555.4" textLength="38.5" lengthAdjust="spacingAndGlyphs">0.66600</text>
<text class="ax" x="1491.1" y="593.5" textLength="38.5" lengthAdjust="spacingAndGlyphs">0.66400</text>
<text class="ax" x="1491.1" y="631.6" textLength="38.5" lengthAdjust="spacingAndGlyphs">0.66200</text>
<text class="ax" x="1491.1" y="669.6" textLength="38.5" lengthAdjust="spacingAndGlyphs">0.66000</text>
<text class="ax" x="1491.1" y="707.7" textLength="38.5" lengthAdjust="spacingAndGlyphs">0.65800</text>
<text class="ax" x="72.5" y="754" text-anchor="middle">9</text>
<text class="ax" x="220.0" y="754" text-anchor="middle">23</text>
<text class="ax" x="309.5" y="754" text-anchor="middle">Oct</text>
<text class="ax" x="443.5" y="754" text-anchor="middle">14</text>
<text class="ax" x="532.5" y="754" text-anchor="middle">22</text>
<text class="ax" x="652.0" y="754" text-anchor="middle">Nov</text>
<text class="ax" x="740.5" y="754" text-anchor="middle">11</text>
<text class="ax" x="829.5" y="754" text-anchor="middle">19</text>
<text class="ax" x="960.0" y="754" text-anchor="middle">Dec</text>
<text class="ax" x="1036.5" y="754" text-anchor="middle">9</text>
<text class="ax" x="1185.4" y="754" text-anchor="middle">23</text>
<text class="axb" x="1266.5" y="754" text-anchor="middle">2020</text>
<text class="ax" x="1368.7" y="754" text-anchor="middle">13</text>
<text class="ax" x="1457.3" y="754" text-anchor="middle">21</text>

<!-- price label -->
<g>
<rect x="1482" y="534" width="52" height="35" fill="#07215e"/>
<rect x="1482" y="542" width="4" height="1" fill="#fff"/>
<path d="M1487 551.5 H1534" stroke="#fff" stroke-width="1" stroke-dasharray="7 2 2 3 3 2" opacity=".9"/>
<text class="lbl" x="1490.7" y="546" textLength="38.5" lengthAdjust="spacingAndGlyphs">0.66648</text>
<text class="lbl" x="1486.8" y="563.8" textLength="42.4" lengthAdjust="spacingAndGlyphs">02:07:17</text>
</g>

<!-- gear -->
<g stroke="#12151c" fill="none" stroke-width="1.15">
<circle cx="1509.5" cy="749.4" r="4.8"/>
<path d="M1514.50 749.40L1516.90 749.40M1513.25 753.15L1514.45 754.35M1509.50 754.40L1509.50 756.80M1505.75 753.15L1504.55 754.35M1504.50 749.40L1502.10 749.40M1505.75 745.65L1504.55 744.45M1509.50 744.40L1509.50 742.00M1513.25 745.65L1514.45 744.45"/>
</g>
</svg>
</body>
</html>
